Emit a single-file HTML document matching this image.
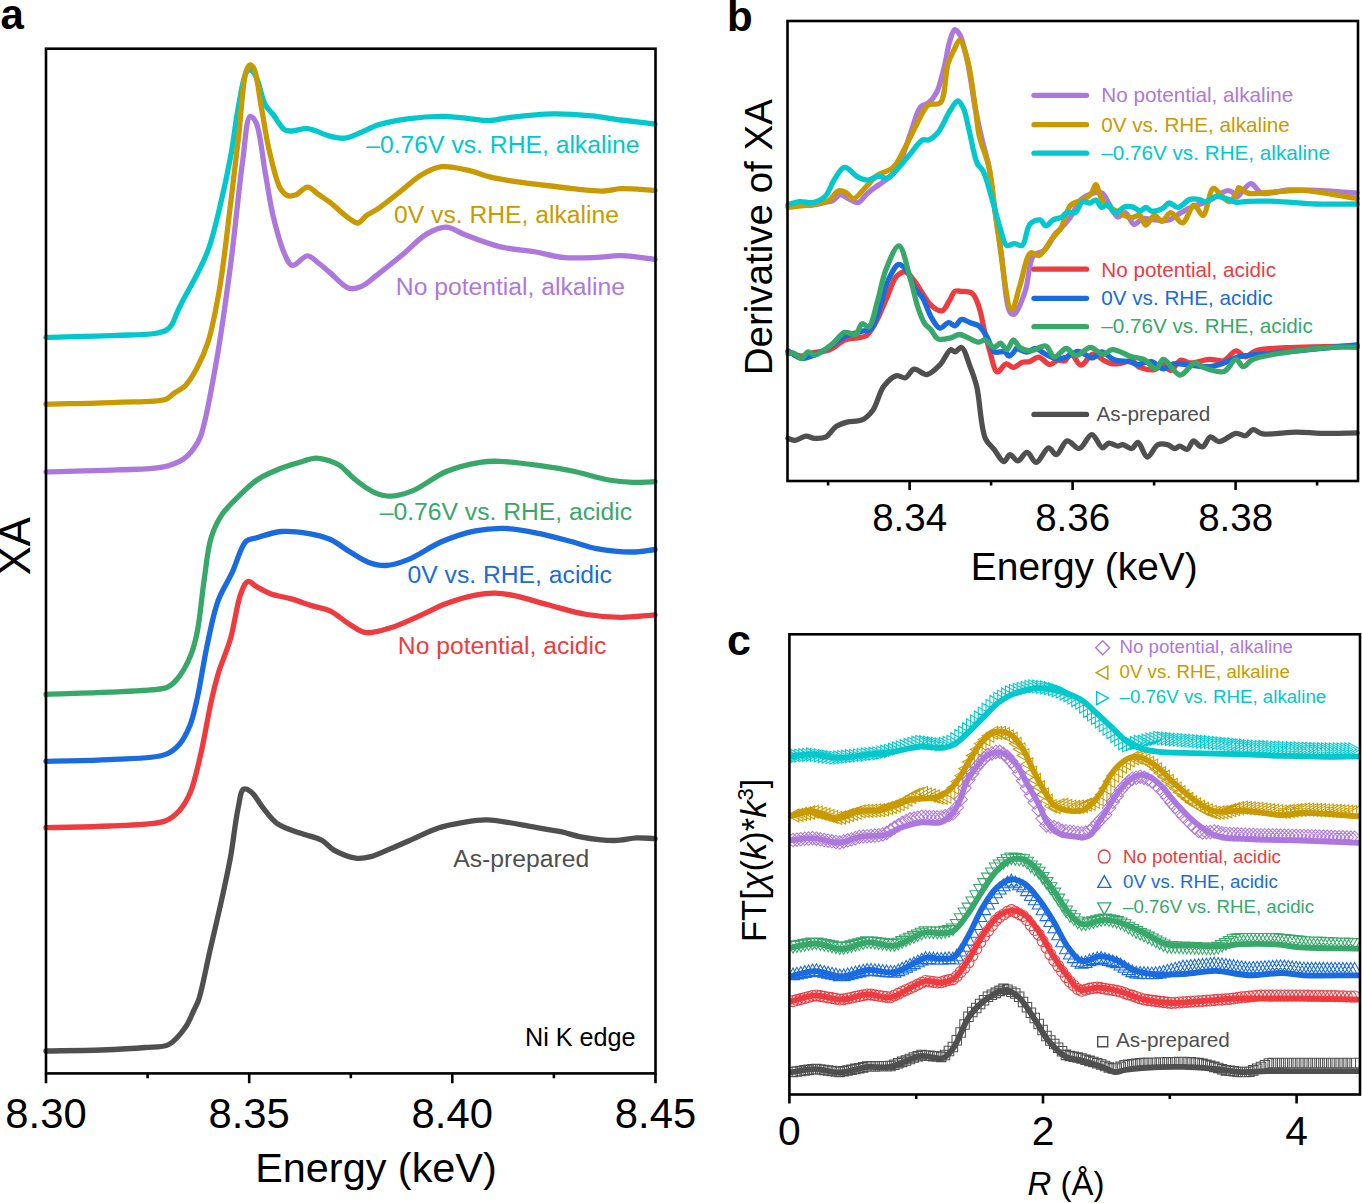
<!DOCTYPE html><html><head><meta charset="utf-8"><style>html,body{margin:0;padding:0;background:#fff;width:1362px;height:1203px;overflow:hidden}svg{display:block}text{font-family:"Liberation Sans",sans-serif}</style></head><body>
<svg width="1362" height="1203" viewBox="0 0 1362 1203">
<path d="M46 337.3C69.5 336.7 96.5 336.2 116.4 335.4C131.1 334.8 145.7 334.9 154.6 333.5C159.6 332.7 163 332.1 166 330.4C168.5 329 170.1 327.2 171.8 324.7C174.1 321.3 175.6 315.6 177.6 311.3C179.5 307.3 181 304.3 183.3 299.8C186.8 293.1 192.5 283.3 196.7 275C200.8 266.8 204.6 259.7 208.1 250.2C212.5 238.2 216 223 219.6 208.1C223.7 191.4 227.8 172.1 231 154.6C234.1 137.8 235.8 119.7 238.7 105C241 93 243.1 77.2 246.3 72.5C247.5 70.7 248.9 69.6 250.2 69.8C252 70 254.1 73.1 255.9 76.3C259.3 82.3 261.7 98.2 265.4 105C267.8 109.3 270.3 110.9 273.1 114.5C276.6 119 280.7 127.4 284.6 129.8C287 131.3 289.1 131 292 131C296.2 131 301.9 128.2 307.5 128.7C314.4 129.3 323.3 134.6 330 136.2C335.3 137.4 339.7 138.6 344.5 138.2C349.4 137.7 353.9 135.3 359.1 133.3C365.2 131 371.3 127.1 378.5 124.8C387.1 122.1 397.2 120.2 407.5 118.8C418.9 117.2 432.7 116.2 443.9 116.3C453.5 116.4 462.6 118 470.5 118.8C476.8 119.4 481.5 120.8 487.5 120.7C494.3 120.6 500.8 118.6 509.3 117.6C521.3 116.2 538.8 114.1 552.9 113.9C566.2 113.7 579.7 114.7 591.7 115.9C602.1 116.9 610.7 118.7 620.8 120C631.7 121.4 643.6 122.7 655 124.1" fill="none" stroke="#00C8CC" stroke-width="5.3" stroke-linejoin="round" stroke-linecap="round"/>
<path d="M46 404.2C69.5 403.6 95 403.3 116.4 402.3C134.4 401.5 157 402.5 166.1 399.2C170.1 397.7 170.9 395.5 173.7 393.5C177.1 391.1 181.7 389.3 185.2 385.8C189.5 381.5 193.2 375.1 196.7 368.6C200.9 360.8 204.7 352.5 208.1 341.9C212.7 327.3 216.1 308.5 219.6 288.4C224 262.8 227.6 227.6 231 200.5C233.9 177.2 236.1 157.2 238.7 135.5C241.2 113.9 242.7 80.4 246.3 70.6C247.5 67.4 248.8 64.9 250.2 64.8C251.4 64.7 252.8 66.4 254 68.7C257.2 74.9 259.1 95.3 261.6 108.8C264.2 122.6 266 137.2 269.3 150.8C272.5 163.9 276.1 181.7 280.7 189C283.1 192.7 285.6 195.1 288.4 195.9C290.8 196.6 293.3 195.8 296 194.8C299.6 193.4 303.7 187.1 307.5 187.1C311.3 187.1 315.2 192.2 319 194.8C322.7 197.3 325.9 199.3 330 202.4C335.6 206.7 344.1 215.1 349.4 218.6C352.7 220.8 355.2 223.3 357.9 223C360.8 222.6 363.1 218 366.3 215.7C369.9 213.1 374 211.5 378.5 208.4C384.8 204.1 393 197.1 400.3 191.5C407.6 185.8 414.7 178.7 422.1 174.5C428.5 170.8 434.3 167.6 441.5 166.7C450.1 165.7 461.9 169 470.5 170.9C477.7 172.5 483.4 175.3 489.9 176.9C496.3 178.5 502.3 179.5 509.3 180.6C517.5 181.9 526.4 183 536 184.2C547.2 185.6 560.6 187.4 572.3 188.6C583.2 189.7 594.9 191.3 603.8 191C610.3 190.8 614.1 188.9 620.8 188.6C630.2 188.2 643.6 189.7 655 190.3" fill="none" stroke="#C99A00" stroke-width="5.3" stroke-linejoin="round" stroke-linecap="round"/>
<path d="M46 471.8C69.5 471.2 95.5 470.8 116.4 469.9C133.3 469.2 150 469.8 162.2 467.2C170.7 465.4 177.7 462.8 183.2 459.2C187.7 456.3 190.8 452.6 193.7 448.7C196.6 444.9 198.4 442.2 200.7 436C205.9 422.1 211.1 390.8 215.8 364.8C221.4 333.7 226.5 295.7 231 261.6C235.4 228.2 238.7 189.1 242.5 162.3C245.1 144 246.2 117.6 250.2 116.4C251.9 115.9 254.2 118.9 255.9 122.2C260.3 130.6 262.4 157.4 265.4 173.7C268.1 188.4 269.8 202.2 273.1 215.8C276.3 228.9 280.5 245.2 284.6 254C287 259.2 288.8 264.7 292.2 265.4C296.1 266.3 302.8 255.8 307.5 255.9C311.6 256 315.3 260.7 319 263.5C322.8 266.3 325.8 269.2 330 272.6C335.5 277.2 343.3 286.8 349.4 288.4C353.6 289.5 357.3 288.2 361.5 286.4C367 284.1 372.4 278.5 378.5 273.8C385.9 268.1 394.7 261.1 402.7 254.5C410.8 247.8 418.8 238.5 426.9 233.9C433.4 230.2 439.9 226.9 446.3 227.1C452.8 227.3 458.3 232.3 465.7 235.1C475.4 238.8 488 243.9 499.6 246.7C511.4 249.5 524.8 250.1 536 252C545.6 253.7 553.1 256.5 562.6 257.4C573.2 258.5 586.1 257.8 596.5 257.4C605.3 257.1 612 255.5 620.8 255.7C631.2 255.9 643.6 258.1 655 259.3" fill="none" stroke="#AD78DD" stroke-width="5.3" stroke-linejoin="round" stroke-linecap="round"/>
<path d="M46 694.3C67.3 693.6 89.7 693.2 109.9 692.2C128.2 691.3 152.9 690.6 162.2 688.7C165.7 688 166.8 687.7 169.2 686.2C172.6 684.1 176.5 680.1 179.7 675.8C183.6 670.6 187.3 663.6 190.2 656.6C193.3 649.1 195.2 641.9 197.2 632.1C200.1 618 201.7 596.2 204.2 579.7C206.4 564.9 207.5 549.4 211.1 537.8C213.8 528.9 217 522 221.6 515.1C226.3 508 233.1 501.8 239.1 495.9C244.8 490.2 250.2 484.6 256.6 480.2C263 475.8 270.4 472.6 277.5 469.7C284.4 466.8 291.8 464.7 298.5 462.7C304.5 460.9 310.4 458.4 315.9 458.2C320.8 458.1 325.7 459.7 329.9 461C333.5 462.2 336.3 463.2 339.7 465.4C344.3 468.4 348.8 474.5 354.2 478.8C360 483.5 367.1 489.2 373.6 492.1C379.2 494.6 384.6 496.2 390.6 496.2C397.4 496.2 404.6 494 412.4 490.9C422.7 486.8 434.7 476.3 446.3 471.5C457.3 466.9 470.4 463.9 480.2 462.3C487.5 461.1 492 461.1 499.6 461.3C510.3 461.6 525.9 463.7 538.4 465.4C550.1 467 560.8 468.6 572.3 471C584.3 473.5 597.7 478.1 608.7 480C617.5 481.5 625 482.1 632.9 482.4C640.4 482.7 647.6 481.9 655 481.7" fill="none" stroke="#37A86A" stroke-width="5.3" stroke-linejoin="round" stroke-linecap="round"/>
<path d="M46 761.3C67.3 760.7 89.3 760.8 109.9 759.6C129.1 758.4 153.7 759 165.7 754.4C172.4 751.8 175.8 748.4 179.7 743.9C184.1 738.8 187.4 731.8 190.2 724.7C193.4 716.8 194.8 708.9 197.2 698.5C200.6 683.4 203.9 659.8 207.7 642.6C211 627.6 213.5 613 218.1 600.7C222 590.2 227.5 582.4 232.1 572.7C236.9 562.6 240.5 546.4 246.1 541.3C249.3 538.4 252.3 539.1 256.6 537.8C263 535.9 272.5 532.3 281 531.5C289.9 530.7 300.4 532.1 309 533.6C316.6 534.9 323.3 536.4 330 539.3C336.8 542.3 342.9 547.6 349.4 551.5C355.8 555.3 362.4 560.1 368.8 562.4C374.5 564.4 379.7 565.7 385.7 565.5C392.5 565.3 399.6 563 407.5 559.9C417.8 555.9 430 546.7 441.5 541.8C452.6 537.1 464.4 533.1 475.4 530.9C485.4 528.9 494.4 528.1 504.5 528.4C515.4 528.7 527.2 531.1 538.4 533.3C549.8 535.5 562 539.1 572.3 541.8C581.1 544.1 587.5 546.9 596.5 548.6C607.3 550.6 622.3 552.1 632.9 552C641.2 551.9 647.6 550.3 655 549.5" fill="none" stroke="#1A6AE0" stroke-width="5.3" stroke-linejoin="round" stroke-linecap="round"/>
<path d="M46 827.7C67.3 827.1 89.3 827.2 109.9 826C129.2 824.8 153.7 825.4 165.7 820.7C172.4 818.1 175.7 814.6 179.7 810.2C184 805.5 187.1 800 190.2 792.8C194.5 782.7 197.4 768.3 200.7 754.4C204.5 738.3 207.8 716.7 211.1 702C213.5 691.2 215.2 683.8 218.1 674C221.4 662.9 226.8 651.6 230.4 639.1C234.5 625.1 236.8 603.8 240.8 593.7C243 588.1 244.9 582.3 247.8 581.5C250.3 580.8 253.3 584.9 256.6 586.7C260.7 588.9 265.3 591.8 270.5 593.7C276.7 596 284.5 596.9 291.5 598.9C298.5 600.9 305.7 603.8 312.4 605.9C318.5 607.8 324.2 608.1 330 610.8C336.6 613.9 343 620.4 349.4 624.2C355.1 627.6 360 631.8 366.3 632.6C373.5 633.6 382.4 630.3 390.6 627.8C399.4 625.2 408.2 620.8 417.2 616.9C426.7 612.8 436.5 607.3 446.3 603.6C455.9 600 466.6 596.8 475.4 595.1C482.5 593.7 488.3 593 494.8 593.1C501.3 593.2 506.9 594.1 514.2 595.6C524 597.6 536.4 601.7 548.1 604.8C560.6 608.1 574.2 612.4 586.8 614.5C598.4 616.4 609.4 617.3 620.8 617.4C632.2 617.5 643.6 615.7 655 614.9" fill="none" stroke="#EE3B40" stroke-width="5.3" stroke-linejoin="round" stroke-linecap="round"/>
<path d="M46 1051C64.3 1050.7 83.7 1050.6 101 1050C116.5 1049.4 132.6 1048.6 145 1047.5C154.2 1046.7 162 1047.9 168.8 1044.5C175.6 1041.1 181.3 1033.1 185.6 1027C189.4 1021.6 191.6 1015 194 1010C195.8 1006.1 197.1 1004.5 198.7 999.6C202.1 989.4 206.2 967.1 209.9 950.9C213.6 934.7 217.6 918.2 221.1 902.3C224.5 887 227.7 872.6 230.5 857.3C233.4 841.4 235.3 821.2 238 808.7C239.8 800.7 240.4 790.8 243.6 789.2C245.6 788.2 248.6 790 251.1 791.8C254.9 794.6 258.2 801.7 262.3 806.8C266.8 812.3 271.2 819.3 277.3 823.6C283.6 828.1 292.3 830.2 299.8 833C307.2 835.8 316.2 837.2 322.2 840.5C326.9 843.1 328.8 847.2 333.5 849.9C339.5 853.3 349.1 857.2 355.9 858.1C361.3 858.8 365.7 857.9 370.9 856.6C376.9 855.1 383.1 851.8 389.6 849.1C396.8 846.1 404.3 842.8 412.1 839.4C420.5 835.8 429.8 830.9 438.3 828.1C445.9 825.6 452.9 824.2 460.7 822.9C469.1 821.5 476.9 819.7 487 819.9C500.7 820.2 521.9 825.2 535.6 827.4C545.7 829 553.8 830.2 561.8 831.9C568.6 833.4 573.4 835.5 580.6 836.8C590.1 838.6 604.1 840.5 614.2 840.5C622.5 840.5 629.6 838.2 636.7 837.9C643.1 837.7 648.9 838.4 655 838.6" fill="none" stroke="#4F4F4F" stroke-width="5.3" stroke-linejoin="round" stroke-linecap="round"/>
<rect x="46" y="48.7" width="609.5" height="1024.7" fill="none" stroke="#000" stroke-width="2.6"/>
<path d="M46 1073.4 V1083.2 M147.6 1073.4 V1078.2 M249.2 1073.4 V1083.2 M350.8 1073.4 V1078.2 M452.3 1073.4 V1083.2 M553.9 1073.4 V1078.2 M655.5 1073.4 V1083.2" stroke="#000" stroke-width="2.6" fill="none"/>
<text x="46" y="1128" font-size="41.8" text-anchor="middle">8.30</text>
<text x="249.2" y="1128" font-size="41.8" text-anchor="middle">8.35</text>
<text x="452.3" y="1128" font-size="41.8" text-anchor="middle">8.40</text>
<text x="655.5" y="1128" font-size="41.8" text-anchor="middle">8.45</text>
<text x="376" y="1182.4" font-size="41.4" text-anchor="middle">Energy (keV)</text>
<text transform="translate(29.7 546.3) rotate(-90)" font-size="43.5" text-anchor="middle">XA</text>
<text x="0.5" y="29.2" font-size="42" font-weight="bold">a</text>
<text x="366.3" y="152.7" font-size="24.7" fill="#00C8CC">–0.76V vs. RHE, alkaline</text>
<text x="394" y="223.4" font-size="24.7" fill="#C99A00">0V vs. RHE, alkaline</text>
<text x="395.8" y="295.2" font-size="24.7" fill="#AD78DD">No potential, alkaline</text>
<text x="379.7" y="520.4" font-size="24.7" fill="#37A86A">–0.76V vs. RHE, acidic</text>
<text x="407.5" y="583.4" font-size="24.7" fill="#1A6AE0">0V vs. RHE, acidic</text>
<text x="397.8" y="654.4" font-size="24.7" fill="#EE3B40">No potential, acidic</text>
<text x="453.3" y="866.7" font-size="24.7" fill="#4F4F4F">As-prepared</text>
<text x="525" y="1046" font-size="25.2" fill="#000">Ni K edge</text>
<path d="M788 206.4C791.8 205.4 795.8 203.6 799.5 203.5C802.9 203.4 805.7 205.5 809.3 205.5C813.9 205.5 820.6 203.4 824.9 202.5C828 201.8 830.2 201.8 832.7 200.6C835.5 199.3 837.9 194.9 840.6 194.7C843.1 194.5 845.6 197.4 848.4 198.6C851.4 200 855.2 203.1 858.1 202.5C861.1 201.9 863.2 197.2 866 194.7C869 192 872.8 189 875.7 186.9C877.9 185.3 879.4 184.7 881.6 183C884.9 180.5 890.1 177.1 893.3 173.2C896.6 169.3 898.6 165.1 901.1 159.6C904.5 152.2 907.6 141.1 910.9 132.2C914.1 123.6 916.6 111.3 920.7 106.8C923 104.2 926.1 104.8 928.5 102.9C931.4 100.6 934 97.4 936.3 93.1C939.6 86.8 941.8 76.4 944.1 67.7C946.4 58.8 947.7 47.3 950 40.4C951.5 35.9 952.9 30.1 954.8 29.7C956.3 29.4 958.2 32 959.7 34.5C962.8 39.7 965.1 51.5 967.5 61.9C970.5 75.4 972.8 95.3 975.4 108.8C977.4 119.1 979 126.7 981.2 136.1C983.5 146.2 986.8 156.1 989 167.4C991.5 180.5 992.9 196.3 994.9 210.3C996.9 223.8 998.7 235.4 1000.9 250.2C1003.7 268.7 1005.6 307.1 1010.4 312.7C1011.7 314.2 1013.1 314.6 1014.5 314C1017.9 312.5 1022.3 299.6 1025.3 290.9C1028.9 280.5 1028.5 261.9 1033.5 255.6C1036.4 252 1041 253.1 1044.3 250.2C1048.5 246.5 1052.8 236.8 1055.2 233.9C1056.2 232.7 1056.5 232.8 1057.6 231.7C1060.1 229.2 1065.7 223.5 1069.4 218.5C1073.6 212.9 1076.9 203.5 1081.1 199.4C1083.9 196.6 1086.6 195.3 1089.9 194.2C1093.4 193 1098.6 191.3 1101.7 192.8C1105 194.3 1106.5 200 1109 203.8C1111.8 208 1114.6 216.3 1117.8 217C1120.1 217.5 1122.8 212.1 1125.2 212.6C1128.3 213.2 1130.8 223.7 1134 224.3C1136.7 224.8 1139.5 219.3 1142.8 218.5C1146.3 217.7 1150.4 219.7 1154.5 219.9C1159.1 220.2 1164.7 221.2 1169.2 219.9C1173.5 218.7 1177 214.8 1181 212.6C1184.9 210.4 1188.4 208.5 1192.7 206.7C1197.6 204.6 1203.4 203.3 1208.9 200.8C1215.1 198 1222.9 190.4 1228 190.6C1231.6 190.8 1235.8 195.3 1236.8 196.4C1237.1 196.7 1236.9 197.2 1237.2 197.2C1238.5 197.4 1246.5 183.7 1250.8 183.6C1254.6 183.5 1256.8 191.6 1261.7 193.1C1268.4 195.2 1279.7 190.3 1288.8 189.9C1297.8 189.5 1306 190 1316 190.4C1328.3 190.9 1343.3 192.2 1357 193.1" fill="none" stroke="#AD78DD" stroke-width="5.3" stroke-linejoin="round" stroke-linecap="round"/>
<path d="M788 207.4C798.4 206.1 811.7 205.1 819.1 203.5C823.3 202.6 825.8 202.4 828.8 200.6C832.3 198.5 835.3 191.7 838.6 190.8C841.2 190.1 844 191.6 846.4 192.8C848.9 194.1 850.7 198.7 853.3 198.6C856.9 198.5 861.9 190.8 866 186.9C870 183 873.2 178.4 877.7 175.2C882.3 171.9 888.9 171.5 893.3 167.4C898.3 162.8 901.2 154.7 905 147.8C909 140.4 912.6 131.8 916.7 124.4C920.5 117.5 923.7 108.2 928.5 104.9C932 102.5 937.2 105.8 940.2 102.9C945.7 97.5 945 73.4 948 63.8C949.8 58 951.8 54.3 953.9 50.2C955.7 46.6 957.8 40.3 959.7 40.4C962.3 40.6 965.2 51.8 967.5 59.9C971 72.4 973.3 94.9 975.4 108.8C977 119.2 977.2 126.8 979.3 136.1C981.6 146.3 986.5 156 989 167.4C991.9 180.5 993.2 198.1 994.9 210.3C996.2 219.3 996.6 223.8 998.2 233.9C1001.1 252 1007.1 309.6 1011.7 309.9C1014.4 310.1 1017 294.2 1019.9 285.5C1023.3 275.4 1025.9 255.3 1030.7 252.9C1033.1 251.7 1036.2 256.4 1038.9 255.6C1042.7 254.5 1047.7 244.9 1049.8 242C1050.7 240.7 1050.8 240.3 1051.7 239C1053.5 236.5 1057.8 233.1 1060.6 228.7C1064.4 222.7 1066 210 1070.8 205.2C1074.4 201.6 1080.4 201.6 1084.1 199.4C1087 197.6 1089.5 195.9 1091.4 193.5C1093.4 191 1094.3 184.6 1095.8 184.7C1097.7 184.8 1099.2 195.5 1101.7 199.4C1103.8 202.5 1106 204.4 1109 206.7C1112.6 209.4 1118.2 212.2 1122.2 214.1C1125.4 215.6 1128 217.5 1131 217.7C1133.9 217.9 1137.5 214.5 1139.9 215.5C1142.5 216.6 1143.4 224.9 1145.7 225.1C1148.2 225.3 1151.6 215.7 1154.5 215.5C1157 215.3 1159.4 221.5 1161.9 221.4C1164.8 221.2 1167.5 212.7 1170.7 212.6C1174.3 212.5 1178.7 223.4 1182.4 222.9C1186.7 222.3 1190.4 205.4 1194.2 205.2C1197.2 205 1200.3 216 1203 215.5C1206.9 214.8 1209.2 189.4 1213.3 188.4C1215.9 187.8 1219.2 194.1 1222.1 196.4C1224.6 198.4 1227 202 1229.4 201.6C1232.5 201.1 1237.2 191.2 1238.2 189.1C1238.5 188.4 1238.2 187.9 1238.6 187.7C1239.7 187.2 1244.5 192.2 1248.1 193.1C1252.1 194.2 1256 193.3 1261.7 193.1C1271.6 192.8 1287.9 189.8 1302.4 190.4C1319.3 191.1 1338.8 195.8 1357 198.5" fill="none" stroke="#C99A00" stroke-width="5.3" stroke-linejoin="round" stroke-linecap="round"/>
<path d="M788 204.5C791.8 203.5 795.5 202 799.5 201.6C803.8 201.2 808.9 203.4 813.2 202.5C817.4 201.7 821.6 199.9 824.9 196.7C829 192.8 831.2 184.2 834.7 179.1C837.8 174.6 840.7 167.9 844.5 167.4C848.5 166.9 853.8 175 858.1 177.1C861.5 178.8 864.7 180.2 867.9 180.1C871.2 180 874.4 176.5 877.7 176.2C880.9 175.9 884.4 178.9 887.4 178.1C890.9 177.1 893.9 172.7 897.2 169.3C901.1 165.3 904.8 160.3 908.9 155.6C913.3 150.6 918.6 141.8 922.6 140C924.7 139 926.4 140.7 928.5 140C931.5 138.9 935.1 135.8 938.2 132.2C942.5 127.1 946.2 116.3 950 110.7C952.7 106.7 955.4 101 957.8 101C959.9 101 961.9 105.3 963.6 108.8C966.2 114.3 967.4 123.8 969.5 132.2C971.9 141.9 974.1 156.7 977.3 163.5C979.1 167.2 981.3 167.6 983.2 171.3C986.7 178.1 990 192.4 993 202.5C995.8 211.9 998.1 222.1 1000.7 229.9C1002.7 235.9 1003.6 243.9 1006.6 245.5C1008.7 246.6 1011.8 243.6 1014.4 243.6C1017 243.6 1020 246.7 1022.2 245.5C1025.9 243.5 1026.1 228.1 1030 224C1032.7 221.2 1037.2 219.3 1040 219.9C1042.4 220.4 1043.8 225.7 1045.9 225.8C1048.2 225.9 1050.5 221.4 1053.2 219.9C1055.9 218.4 1059.7 218.4 1062 217C1063.9 215.8 1064.5 213.4 1066.4 212.6C1068.7 211.7 1072.7 213.9 1075.2 212.6C1078.3 211 1079.7 202.8 1082.6 201.6C1084.8 200.7 1087.6 203.3 1089.9 203C1092 202.7 1094 199.7 1095.8 200.1C1098 200.6 1099.5 206.9 1101.7 207.4C1103.5 207.8 1105.6 204.1 1107.5 204.5C1110 205 1112 212.2 1114.9 212.6C1117.9 213.1 1121.8 207.5 1125.2 206.7C1128.1 206 1131.4 206.6 1134 207.4C1136.3 208.2 1137.9 211.1 1139.9 211.1C1141.8 211.1 1143.8 207.4 1145.7 207.4C1147.7 207.4 1149.3 210.7 1151.6 211.1C1154.5 211.6 1158.9 210.3 1161.9 208.9C1164.7 207.6 1166.6 203.3 1169.2 203C1171.9 202.7 1174.9 207.6 1178 207.4C1181.7 207.2 1186 200.6 1189.8 199.4C1192.8 198.5 1195.8 199 1198.6 199.4C1201.2 199.8 1203.3 201.8 1205.9 201.6C1209.1 201.3 1212.6 196.8 1216.2 196.4C1219.9 196 1224.4 198.3 1228 199.4C1231.2 200.3 1233.6 201.9 1236.8 202.3C1240.3 202.7 1243.5 201.5 1248.1 201.3C1255.2 201 1265.3 201 1275.2 201.3C1287.4 201.7 1302.4 203.5 1316 204C1329.6 204.5 1343.3 204 1357 204" fill="none" stroke="#00C8CC" stroke-width="5.3" stroke-linejoin="round" stroke-linecap="round"/>
<path d="M788 351.8C792.5 353.3 797.3 356.2 801.6 356.2C805.4 356.2 808.3 353.9 812.4 352.9C817.5 351.7 824.3 351.8 829.7 349.7C835.1 347.6 839.8 342 844.8 340C849.1 338.3 853.9 338.6 857.8 337.8C861 337.1 863.8 337.4 866.4 335.6C869.7 333.3 872.3 328.5 875.1 323.7C878.8 317.3 882.3 307.9 885.9 300C889.5 292.1 892.4 280.7 896.7 276.2C899.3 273.5 902.7 271.4 905.4 271.9C908.5 272.4 911.3 277.2 914 280.5C917.1 284.3 919.7 289.3 922.6 293.5C925.4 297.6 927.8 302.5 931.3 305.4C934.4 308.1 939.2 311.5 942.1 310.8C944.9 310.1 946.5 305.2 948.6 302.1C950.9 298.7 952.5 292.8 955.1 291.3C957 290.2 959.1 291.1 961.5 291.3C964.6 291.6 969.5 291.4 972.3 293.5C975.5 296 976.9 301.1 978.8 306.4C981.5 313.8 983.2 326.3 985.3 334.5C986.9 341 988.1 346 990 352C992 358.5 994 371.1 997.3 371.9C999.8 372.5 1003.2 364.2 1006.2 363.8C1008.6 363.5 1011 367.5 1013.5 367.4C1016.3 367.3 1019.4 363.2 1022.3 362.3C1024.8 361.5 1027.1 362.3 1029.6 361.6C1032.5 360.8 1035.4 357 1038.5 357.2C1042.2 357.4 1046.7 364.5 1050.2 364.5C1052.9 364.5 1055 360.7 1057.6 360.1C1060 359.6 1062.8 361.7 1064.9 360.8C1067.3 359.8 1068.5 353.5 1070.8 353.5C1073.7 353.4 1077.4 365 1081 365.2C1084.7 365.4 1088.7 354.7 1092.8 354.2C1096.6 353.8 1101 359.1 1104.5 360.8C1107.2 362.1 1109.2 363.4 1111.9 363.8C1115 364.3 1118.8 363.5 1122.2 363C1125.6 362.5 1129.6 360 1132.4 360.8C1134.9 361.5 1135.6 365.3 1138.3 366.7C1142.2 368.7 1150.1 370.5 1154.5 369.6C1158.1 368.9 1160.6 363.6 1163.3 363.8C1165.9 364 1168 370.5 1170.6 370.4C1173.8 370.3 1177.3 361 1180.9 360.1C1183.8 359.4 1186.4 362.8 1190 363C1195.2 363.3 1203.3 359.7 1209.3 359.4C1214.5 359.1 1219.5 361.9 1223.9 360.6C1228.4 359.2 1232.1 351.1 1236 350.9C1239.3 350.7 1242.4 356.9 1245.6 356.9C1248.8 356.9 1250.7 352.4 1255.3 350.9C1264.1 348 1281.4 348.1 1296.5 347.3C1314.7 346.3 1336.8 346.4 1357 346" fill="none" stroke="#EE3B40" stroke-width="5.3" stroke-linejoin="round" stroke-linecap="round"/>
<path d="M788 350.8C792.5 353.3 796.4 357.9 801.6 358.3C807.9 358.8 816.2 354.2 823.2 350.8C830.6 347.2 837.8 340 844.8 336.7C850.7 333.9 857.3 332.7 862.1 331.3C865.5 330.3 868.3 331.2 870.8 329.1C874.7 325.7 876.7 316 879.4 308.6C882.5 300 884.4 288.4 888.1 280.5C891.1 274.1 895.2 264.8 898.9 264.3C901.7 263.9 905.1 268.6 907.5 271.9C910.4 275.8 911.3 282.5 914 287C916.4 291.1 920 293.5 922.6 297.8C925.9 303.2 928 311.9 931.3 317.3C933.9 321.6 936.8 327.6 939.9 328.1C942.6 328.6 945.9 322.8 948.6 322.7C950.9 322.6 953.1 326.2 955.1 325.9C957.4 325.5 959 319.9 961.5 319.4C964 318.8 967.3 321.6 970.2 322.7C973.1 323.8 976.2 323.9 978.8 325.9C982.1 328.4 985 333.5 987.5 337.8C990.1 342.2 990.7 349.7 994 351.8C996.8 353.6 1002.2 350.7 1004.8 351.8C1006.8 352.6 1007.5 356.2 1009.1 356.2C1011 356.2 1014.5 351.1 1015.6 349.7C1016 349.1 1015.9 348.6 1016.4 348.4C1017.9 347.9 1023.4 352.1 1026.7 352C1029.8 351.9 1032.6 348.2 1035.5 348.4C1038.5 348.6 1041.1 351.9 1044.3 353.5C1047.9 355.3 1052.2 358.1 1056.1 358.6C1059.6 359.1 1062.9 358.3 1066.4 357.2C1070.3 356 1074 351.4 1078.1 351.3C1082.7 351.2 1088.6 358.3 1092.8 357.9C1096.2 357.6 1098.3 352.1 1101.6 352C1105.5 351.9 1110.1 358.5 1114.8 360.1C1119.4 361.7 1125.5 360.6 1129.5 361.6C1132.4 362.3 1133.9 364.2 1136.8 364.5C1140.8 364.9 1147 360.8 1151.5 361.6C1155.8 362.4 1159.5 368.7 1163.3 368.9C1166.8 369.1 1169.7 364.5 1173.6 363.8C1178.3 362.9 1184.3 364.8 1190 365.2C1196.2 365.7 1203.4 367.1 1209.3 366.6C1214.5 366.2 1219.1 364.6 1223.9 363C1228.8 361.4 1232.4 358.4 1238.4 356.9C1247.2 354.6 1258.5 354.7 1272.3 353.3C1294.2 351 1328.8 347.6 1357 344.8" fill="none" stroke="#1A6AE0" stroke-width="5.3" stroke-linejoin="round" stroke-linecap="round"/>
<path d="M788 354C789.7 353.6 791.2 352.6 793 352.9C795.6 353.3 799 358.6 801.6 358.3C804 358 805.8 352.2 808.1 351.8C810.2 351.5 812 355.2 814.6 355.1C819 354.9 826.7 348.3 831.9 344.3C836.7 340.6 840.4 333.7 844.8 332.4C848.3 331.4 852.8 335.8 855.6 334.5C858.6 333.1 859.5 324.4 862.1 323.7C864 323.1 866.7 327.8 868.6 327C872.3 325.5 874.6 311 877.3 302.1C880.4 292.1 882 279.5 885.9 269.7C889.4 260.9 895.1 245.6 898.9 245.9C903.1 246.2 906.5 265.9 909.7 276.2C913 286.8 915.3 299.9 918.3 308.6C920.4 314.7 922.2 319.9 924.8 323.7C926.7 326.5 929.2 327.8 931.3 330.2C933.6 332.8 934.8 337.5 937.8 338.9C941.1 340.4 946.9 338.7 950.7 337.8C953.9 337.1 956.5 334.5 959.4 334.5C962.3 334.5 965 336.6 968 337.8C971.4 339.1 975.6 342 978.8 342.1C981.2 342.2 983.1 339.6 985.3 340C988.1 340.6 991.3 347.3 994 347.5C996.2 347.6 998.3 343 1000.4 343.2C1002.7 343.4 1004.8 349.9 1006.9 349.7C1009.2 349.5 1011.1 340.1 1013.4 340C1015.5 339.9 1017.2 345.7 1019.9 347.5C1022.7 349.4 1026.3 350.9 1030 350.9C1034.7 351 1041.7 344.7 1045.8 346C1049.6 347.2 1050.9 356.4 1054.2 356.9C1057.7 357.4 1062.5 348.4 1066.3 348.5C1069.7 348.6 1072.4 355.5 1076 355.7C1080.3 356 1086 347.3 1090.6 347.3C1094.8 347.3 1098.9 354.4 1102.7 354.5C1106.1 354.6 1108.6 349.9 1112.4 349.7C1117.7 349.4 1126 355.2 1131.8 356.9C1136.3 358.2 1140.1 357.6 1143.9 359.4C1148.2 361.4 1152.6 369.4 1156 369C1159 368.6 1160.2 359.7 1163.3 359.4C1167.6 359 1174.7 374.9 1180.2 375.1C1185.2 375.2 1190.3 363.5 1194.8 363C1198.2 362.6 1200.6 366.5 1204.5 367.8C1209.8 369.6 1218.5 373.1 1223.9 371.5C1228.9 370 1232.5 359.4 1236 359.4C1238.7 359.4 1240.5 366.4 1243.2 366.6C1246.1 366.8 1248.2 361.5 1252.9 359.4C1262 355.4 1282.6 352.9 1296.5 350.9C1309.1 349 1322 347.8 1332.9 347.3C1341.7 346.9 1349 347.3 1357 347.3" fill="none" stroke="#37A86A" stroke-width="5.3" stroke-linejoin="round" stroke-linecap="round"/>
<path d="M788 438.3C790.4 439 792.5 440.5 795.1 440.4C798.3 440.3 802.5 436.3 805.9 436.1C808.9 435.9 811.5 438.1 814.6 438.3C818 438.5 822.1 438.8 825.4 437.2C829.4 435.3 832.3 429 836.2 426.4C839.6 424.2 843 423.2 847 422.1C851.5 420.9 857.7 421.9 862.1 419.9C866.3 417.9 869.7 414.6 872.9 410.2C877.2 404.3 879.1 392.4 883.7 386.4C887.4 381.6 892.6 376.5 896.7 375.6C899.7 374.9 902.7 378.6 905.4 377.8C908.5 376.9 910.6 369.8 914 369.1C917.7 368.4 922.8 375 927 374.5C931.5 373.9 936.1 368.7 940 364.8C944.1 360.6 947.6 350.5 950.7 349.7C952.3 349.3 953.5 351.9 955.1 351.8C957.1 351.7 959.5 346.9 961.5 347.5C964.8 348.4 967.6 360.4 970.2 367C972.7 373.4 974.7 378.3 976.7 386.4C979.9 399.4 980.6 427.8 985.3 438.3C987.7 443.7 990.9 445.4 993.9 449.1C997.1 453.1 1000.9 461.5 1003.9 461.6C1006.1 461.7 1007.7 454.9 1010 454.7C1012.4 454.5 1015.1 461 1017.8 460.9C1020.8 460.8 1024 452.3 1027 452.4C1030.2 452.5 1033 462.5 1036.3 462.4C1040.2 462.3 1044.9 448.1 1048.6 447.8C1051.4 447.6 1053.6 454.9 1056.3 454.7C1059.8 454.4 1063 441.5 1067.1 440.8C1070.8 440.1 1075.5 449.1 1079.4 448.5C1083.8 447.9 1087.9 434.5 1091.8 434.6C1095.6 434.7 1099.2 447.4 1102.5 447.8C1104.7 448.1 1106.3 443.5 1108.7 443.1C1111.4 442.7 1115.4 446.2 1118 446.2C1119.8 446.2 1120.8 444.6 1122.6 444.7C1125.2 444.8 1129.2 449 1131.8 448.5C1134.3 448 1135.9 442.2 1138 442.4C1141 442.7 1143.9 456.7 1147.3 457C1150.6 457.2 1154.1 446.5 1158 444.7C1160.9 443.4 1164.4 444 1167.3 444.7C1170.1 445.3 1172.8 448.5 1175 448.5C1176.7 448.5 1177.9 446.3 1179.6 446.2C1181.8 446.1 1185.1 449.9 1187.3 449.3C1189.8 448.6 1191.2 441.1 1193.5 440.8C1195.5 440.5 1198.1 445.4 1200 446.2C1201.2 446.7 1202.1 447.1 1203.2 446.6C1205.4 445.7 1207.7 437.5 1210.5 436.9C1213 436.4 1215.7 441.6 1219 441.7C1223.7 441.8 1231.1 433.8 1236 433.3C1239.6 432.9 1242.8 436.4 1245.6 435.7C1248.4 435.1 1250.2 430 1252.9 429.6C1255.8 429.2 1258.3 433 1262.6 433.8C1270.4 435.2 1286.1 432.1 1296.5 432.1C1305.3 432.1 1311.9 433.1 1320.8 433.3C1331.7 433.5 1344.9 433 1357 432.8" fill="none" stroke="#4F4F4F" stroke-width="5.3" stroke-linejoin="round" stroke-linecap="round"/>
<rect x="787.5" y="21" width="570.5" height="460" fill="none" stroke="#000" stroke-width="2.6"/>
<path d="M828.1 481 V485.5 M909.6 481 V490 M991.1 481 V485.5 M1072.6 481 V490 M1154.1 481 V485.5 M1235.6 481 V490 M1317.1 481 V485.5" stroke="#000" stroke-width="2.6" fill="none"/>
<text x="909.6" y="531" font-size="38.5" text-anchor="middle">8.34</text>
<text x="1072.6" y="531" font-size="38.5" text-anchor="middle">8.36</text>
<text x="1235.6" y="531" font-size="38.5" text-anchor="middle">8.38</text>
<text x="1084.3" y="580.1" font-size="38.9" text-anchor="middle">Energy (keV)</text>
<text transform="translate(772.1 237.2) rotate(-90)" font-size="38.5" text-anchor="middle">Derivative of XA</text>
<text x="727" y="31.3" font-size="42" font-weight="bold">b</text>
<path d="M1034 95.3H1086.5" stroke="#AD78DD" stroke-width="5.3" stroke-linecap="round"/>
<text x="1101.2" y="102.3" font-size="20.7" fill="#AD78DD">No potential, alkaline</text>
<path d="M1034 124.7H1086.5" stroke="#C99A00" stroke-width="5.3" stroke-linecap="round"/>
<text x="1101.2" y="131.7" font-size="20.7" fill="#C99A00">0V vs. RHE, alkaline</text>
<path d="M1034 153.2H1086.5" stroke="#00C8CC" stroke-width="5.3" stroke-linecap="round"/>
<text x="1101.2" y="160.3" font-size="20.7" fill="#00C8CC">–0.76V vs. RHE, alkaline</text>
<path d="M1034 269.2H1086.5" stroke="#EE3B40" stroke-width="5.3" stroke-linecap="round"/>
<text x="1101.2" y="276.6" font-size="20.7" fill="#EE3B40">No potential, acidic</text>
<path d="M1034 298.3H1086.5" stroke="#1A6AE0" stroke-width="5.3" stroke-linecap="round"/>
<text x="1101.2" y="305" font-size="20.7" fill="#1A6AE0">0V vs. RHE, acidic</text>
<path d="M1034 326.7H1086.5" stroke="#37A86A" stroke-width="5.3" stroke-linecap="round"/>
<text x="1101.2" y="333.2" font-size="20.7" fill="#37A86A">–0.76V vs. RHE, acidic</text>
<path d="M1034 414.4H1086.5" stroke="#4F4F4F" stroke-width="5.3" stroke-linecap="round"/>
<text x="1096.5" y="421.2" font-size="20.7" fill="#4F4F4F">As-prepared</text>
<clipPath id="cc"><rect x="789.4" y="634.3" width="570.6" height="460.20000000000005"/></clipPath>
<g fill="none" stroke-width="1.05" clip-path="url(#cc)">
<path d="M798.9 756.4L787.1 749.9L787.1 762.9ZM802.8 756L791 749.5L791 762.5ZM806.6 755.6L794.9 749.1L794.9 762.1ZM810.5 755.2L798.8 748.7L798.8 761.7ZM814.4 754.8L802.7 748.3L802.7 761.3ZM818.3 754.5L806.6 748L806.6 761ZM822.2 754.9L810.5 748.4L810.5 761.4ZM826.1 755.4L814.4 748.9L814.4 761.9ZM830 756L818.3 749.5L818.3 762.5ZM833.9 756.5L822.2 750L822.2 763ZM837.8 757.1L826.1 750.6L826.1 763.6ZM841.7 757.6L830 751.1L830 764.1ZM845.6 757.5L833.9 751L833.9 764ZM849.5 757.1L837.8 750.6L837.8 763.6ZM853.4 756.7L841.7 750.2L841.7 763.2ZM857.3 756.2L845.6 749.7L845.6 762.7ZM861.2 755.8L849.5 749.3L849.5 762.3ZM865.1 755.4L853.4 748.9L853.4 761.9ZM869 754.9L857.3 748.4L857.3 761.4ZM872.9 754.5L861.2 748L861.2 761ZM876.8 754.1L865.1 747.6L865.1 760.6ZM880.7 753.7L869 747.2L869 760.2ZM884.6 753.3L872.9 746.8L872.9 759.8ZM888.5 752.6L876.8 746.1L876.8 759.1ZM892.4 751.7L880.7 745.2L880.7 758.2ZM896.3 750.8L884.6 744.3L884.6 757.3ZM900.2 749.7L888.5 743.2L888.5 756.2ZM904.1 748.5L892.4 742L892.4 755ZM908 747.3L896.3 740.8L896.3 753.8ZM911.9 746.2L900.2 739.7L900.2 752.7ZM915.8 745L904.1 738.5L904.1 751.5ZM919.7 743.8L908 737.3L908 750.3ZM923.6 742.7L911.9 736.2L911.9 749.2ZM927.5 741.8L915.8 735.3L915.8 748.3ZM931.4 742.2L919.7 735.7L919.7 748.7ZM935.3 742.7L923.6 736.2L923.6 749.2ZM939.2 743.2L927.5 736.7L927.5 749.7ZM943.1 743.6L931.4 737.1L931.4 750.1ZM947 744.1L935.3 737.6L935.3 750.6ZM950.9 743.8L939.2 737.3L939.2 750.3ZM954.8 742.9L943.1 736.4L943.1 749.4ZM958.7 741.8L947 735.3L947 748.3ZM962.6 739.2L950.9 732.7L950.9 745.7ZM966.5 735.9L954.8 729.4L954.8 742.4ZM970.4 732.7L958.7 726.2L958.7 739.2ZM974.3 729.2L962.6 722.7L962.6 735.7ZM978.2 725.3L966.5 718.8L966.5 731.8ZM982.1 721.4L970.4 714.9L970.4 727.9ZM986 717.5L974.3 711L974.3 724ZM989.9 713.6L978.2 707.1L978.2 720.1ZM993.8 709.7L982.1 703.2L982.1 716.2ZM997.7 705.9L986 699.4L986 712.4ZM1001.6 702L989.9 695.5L989.9 708.5ZM1005.5 698.8L993.8 692.3L993.8 705.3ZM1009.4 696.6L997.7 690.1L997.7 703.1ZM1013.3 694.5L1001.6 688L1001.6 701ZM1017.2 692.4L1005.5 685.9L1005.5 698.9ZM1021.1 690.8L1009.4 684.3L1009.4 697.3ZM1025 689.8L1013.3 683.3L1013.3 696.3ZM1028.9 688.8L1017.2 682.3L1017.2 695.3ZM1032.8 687.8L1021.1 681.3L1021.1 694.3ZM1036.7 686.8L1025 680.3L1025 693.3ZM1040.6 686.3L1028.9 679.8L1028.9 692.8ZM1044.5 686.6L1032.8 680.1L1032.8 693.1ZM1048.4 686.9L1036.7 680.4L1036.7 693.4ZM1052.3 687.3L1040.6 680.8L1040.6 693.8ZM1056.2 688.1L1044.5 681.6L1044.5 694.6ZM1060.1 689.2L1048.4 682.7L1048.4 695.7ZM1064 690.3L1052.3 683.8L1052.3 696.8ZM1067.9 691.7L1056.2 685.2L1056.2 698.2ZM1071.8 693.5L1060.1 687L1060.1 700ZM1075.7 695.3L1064 688.8L1064 701.8ZM1079.6 697.6L1067.9 691.1L1067.9 704.1ZM1083.5 700L1071.8 693.5L1071.8 706.5ZM1087.4 702.6L1075.8 696.1L1075.8 709.1ZM1091.3 706.7L1079.7 700.2L1079.7 713.2ZM1095.2 710.9L1083.6 704.4L1083.6 717.4ZM1099.2 714.4L1087.5 707.9L1087.5 720.9ZM1103.1 717.9L1091.4 711.4L1091.4 724.4ZM1107 721.5L1095.3 715L1095.3 728ZM1110.9 725.1L1099.2 718.6L1099.2 731.6ZM1114.8 728.7L1103.1 722.2L1103.1 735.2ZM1118.7 732.3L1107 725.8L1107 738.8ZM1122.6 736L1110.9 729.5L1110.9 742.5ZM1126.5 739.6L1114.8 733.1L1114.8 746.1ZM1130.4 743.3L1118.7 736.8L1118.7 749.8ZM1134.3 745.4L1122.6 738.9L1122.6 751.9ZM1138.2 744.2L1126.5 737.7L1126.5 750.7ZM1142.1 743L1130.4 736.5L1130.4 749.5ZM1146 741.8L1134.3 735.3L1134.3 748.3ZM1149.9 741.7L1138.2 735.2L1138.2 748.2ZM1153.8 740.7L1142.1 734.2L1142.1 747.2ZM1157.7 739.7L1146 733.2L1146 746.2ZM1161.6 738.8L1149.9 732.3L1149.9 745.3ZM1165.5 737.8L1153.8 731.3L1153.8 744.3ZM1169.4 738.4L1157.7 731.9L1157.7 744.9ZM1173.3 738.7L1161.6 732.2L1161.6 745.2ZM1177.2 739L1165.5 732.5L1165.5 745.5ZM1181.1 739.3L1169.4 732.8L1169.4 745.8ZM1185 739.6L1173.3 733.1L1173.3 746.1ZM1188.9 739.9L1177.2 733.4L1177.2 746.4ZM1192.8 740.3L1181.1 733.8L1181.1 746.8ZM1196.7 740.6L1185 734.1L1185 747.1ZM1200.6 740.9L1188.9 734.4L1188.9 747.4ZM1204.5 741.2L1192.8 734.7L1192.8 747.7ZM1208.4 741.5L1196.7 735L1196.7 748ZM1212.3 741.9L1200.6 735.4L1200.6 748.4ZM1216.2 742.2L1204.5 735.7L1204.5 748.7ZM1220.1 742.6L1208.4 736.1L1208.4 749.1ZM1224 743L1212.3 736.5L1212.3 749.5ZM1227.9 743.4L1216.2 736.9L1216.2 749.9ZM1231.8 743.7L1220.1 737.2L1220.1 750.2ZM1235.7 744.1L1224 737.6L1224 750.6ZM1239.6 744.5L1227.9 738L1227.9 751ZM1243.5 744.8L1231.8 738.3L1231.8 751.3ZM1247.4 745.3L1235.7 738.8L1235.7 751.8ZM1251.3 745.7L1239.6 739.2L1239.6 752.2ZM1255.2 746.1L1243.5 739.6L1243.5 752.6ZM1259.1 746.3L1247.4 739.8L1247.4 752.8ZM1263 746.6L1251.3 740.1L1251.3 753.1ZM1266.9 746.8L1255.2 740.3L1255.2 753.3ZM1270.8 747L1259.1 740.5L1259.1 753.5ZM1274.7 747.2L1263 740.7L1263 753.7ZM1278.6 747.4L1266.9 740.9L1266.9 753.9ZM1282.5 747.6L1270.8 741.1L1270.8 754.1ZM1286.4 747.8L1274.7 741.3L1274.7 754.3ZM1290.3 747.9L1278.6 741.4L1278.6 754.4ZM1294.2 748.1L1282.5 741.6L1282.5 754.6ZM1298.1 748.2L1286.4 741.7L1286.4 754.7ZM1302 748.3L1290.3 741.8L1290.3 754.8ZM1305.9 748.5L1294.2 742L1294.2 755ZM1309.8 748.6L1298.1 742.1L1298.1 755.1ZM1313.7 748.7L1302 742.2L1302 755.2ZM1317.6 748.8L1305.9 742.3L1305.9 755.3ZM1321.5 749L1309.8 742.5L1309.8 755.5ZM1325.4 749.1L1313.7 742.6L1313.7 755.6ZM1329.3 749.2L1317.6 742.7L1317.6 755.7ZM1333.2 749.3L1321.5 742.8L1321.5 755.8ZM1337.1 749.3L1325.4 742.8L1325.4 755.8ZM1341 749.4L1329.3 742.9L1329.3 755.9ZM1344.9 749.4L1333.2 742.9L1333.2 755.9ZM1348.8 749.4L1337.1 742.9L1337.1 755.9ZM1352.7 749.4L1341 742.9L1341 755.9ZM1356.6 749.4L1344.9 742.9L1344.9 755.9ZM1360.5 749.4L1348.8 742.9L1348.8 755.9Z" stroke="#00C8CC"/>
<path d="M787.1 815.5L798.9 809L798.9 822ZM791 814.8L802.8 808.3L802.8 821.3ZM794.9 814L806.6 807.5L806.6 820.5ZM798.8 813.3L810.5 806.8L810.5 819.8ZM802.7 812.5L814.4 806L814.4 819ZM806.6 811.8L818.3 805.3L818.3 818.3ZM810.5 812.6L822.2 806.1L822.2 819.1ZM814.4 813.7L826.1 807.2L826.1 820.2ZM818.3 814.7L830 808.2L830 821.2ZM822.2 815.8L833.9 809.3L833.9 822.3ZM826.1 816.9L837.8 810.4L837.8 823.4ZM830 817.9L841.7 811.4L841.7 824.4ZM833.9 817.5L845.6 811L845.6 824ZM837.8 816.3L849.5 809.8L849.5 822.8ZM841.7 815L853.4 808.5L853.4 821.5ZM845.6 813.8L857.3 807.3L857.3 820.3ZM849.5 812.6L861.2 806.1L861.2 819.1ZM853.4 811.3L865.1 804.8L865.1 817.8ZM857.3 810.9L869 804.4L869 817.4ZM861.2 810.8L872.9 804.3L872.9 817.3ZM865.1 810.6L876.8 804.1L876.8 817.1ZM869 810.4L880.7 803.9L880.7 816.9ZM872.9 810.2L884.6 803.7L884.6 816.7ZM876.8 809.4L888.5 802.9L888.5 815.9ZM880.7 808.1L892.4 801.6L892.4 814.6ZM884.6 806.8L896.3 800.3L896.3 813.3ZM888.5 805.5L900.2 799L900.2 812ZM892.4 804.1L904.1 797.6L904.1 810.6ZM896.3 802.1L908 795.6L908 808.6ZM900.2 799.5L911.9 793L911.9 806ZM904.1 797L915.8 790.5L915.8 803.5ZM908 795.2L919.7 788.7L919.7 801.7ZM911.9 793.8L923.6 787.3L923.6 800.3ZM915.8 792.9L927.5 786.4L927.5 799.4ZM919.7 794.3L931.4 787.8L931.4 800.8ZM923.6 795.5L935.3 789L935.3 802ZM927.5 796.5L939.2 790L939.2 803ZM931.4 797.4L943.1 790.9L943.1 803.9ZM935.3 797.8L947 791.3L947 804.3ZM939.2 796.6L950.9 790.1L950.9 803.1ZM943.1 792.9L954.8 786.4L954.8 799.4ZM947 787.6L958.7 781.1L958.7 794.1ZM950.9 781.6L962.6 775.1L962.6 788.1ZM954.8 775.6L966.5 769.1L966.5 782.1ZM958.7 768.8L970.4 762.3L970.4 775.3ZM962.6 762L974.3 755.5L974.3 768.5ZM966.5 755.5L978.2 749L978.2 762ZM970.4 749.5L982.1 743L982.1 756ZM974.3 743.6L986 737.1L986 750.1ZM978.2 739.4L989.9 732.9L989.9 745.9ZM982.1 735.7L993.8 729.2L993.8 742.2ZM986 732.9L997.7 726.4L997.7 739.4ZM989.9 732.9L1001.6 726.4L1001.6 739.4ZM993.8 732.9L1005.5 726.4L1005.5 739.4ZM997.7 734.1L1009.4 727.6L1009.4 740.6ZM1001.6 736.4L1013.3 729.9L1013.3 742.9ZM1005.5 738.8L1017.2 732.3L1017.2 745.3ZM1009.4 743.8L1021.1 737.3L1021.1 750.3ZM1013.3 749.3L1025 742.8L1025 755.8ZM1017.2 755.4L1028.9 748.9L1028.9 761.9ZM1021.1 764.1L1032.8 757.6L1032.8 770.6ZM1025 772.6L1036.7 766.1L1036.7 779.1ZM1028.9 780L1040.6 773.5L1040.6 786.5ZM1032.8 787.3L1044.5 780.8L1044.5 793.8ZM1036.7 794.5L1048.4 788L1048.4 801ZM1040.6 800.6L1052.3 794.1L1052.3 807.1ZM1044.5 806.1L1056.2 799.6L1056.2 812.6ZM1048.4 807L1060.1 800.5L1060.1 813.5ZM1052.3 805.1L1064 798.6L1064 811.6ZM1056.2 805L1067.9 798.5L1067.9 811.5ZM1060.1 805.8L1071.8 799.3L1071.8 812.3ZM1064 806.6L1075.7 800.1L1075.7 813.1ZM1067.9 807L1079.6 800.5L1079.6 813.5ZM1071.8 806.6L1083.5 800.1L1083.5 813.1ZM1075.8 806.2L1087.4 799.7L1087.4 812.7ZM1079.7 804.7L1091.3 798.2L1091.3 811.2ZM1083.6 803.6L1095.2 797.1L1095.2 810.1ZM1087.5 801.6L1099.2 795.1L1099.2 808.1ZM1091.4 799.1L1103.1 792.6L1103.1 805.6ZM1095.3 794.6L1107 788.1L1107 801.1ZM1099.2 788.3L1110.9 781.8L1110.9 794.8ZM1103.1 781.1L1114.8 774.6L1114.8 787.6ZM1107 775.6L1118.7 769.1L1118.7 782.1ZM1110.9 771.1L1122.6 764.6L1122.6 777.6ZM1114.8 766.5L1126.5 760L1126.5 773ZM1118.7 763.4L1130.4 756.9L1130.4 769.9ZM1122.6 760.3L1134.3 753.8L1134.3 766.8ZM1126.5 758L1138.2 751.5L1138.2 764.5ZM1130.4 757.7L1142.1 751.2L1142.1 764.2ZM1134.3 758.3L1146 751.8L1146 764.8ZM1138.2 760.4L1149.9 753.9L1149.9 766.9ZM1142.1 762.9L1153.8 756.4L1153.8 769.4ZM1146 765.6L1157.7 759.1L1157.7 772.1ZM1149.9 769.3L1161.6 762.8L1161.6 775.8ZM1153.8 773.1L1165.5 766.6L1165.5 779.6ZM1157.7 776.7L1169.4 770.2L1169.4 783.2ZM1161.6 780.8L1173.3 774.3L1173.3 787.3ZM1165.5 784.9L1177.2 778.4L1177.2 791.4ZM1169.4 788.6L1181.1 782.1L1181.1 795.1ZM1173.3 792.2L1185 785.7L1185 798.7ZM1177.2 795.8L1188.9 789.3L1188.9 802.3ZM1181.1 799L1192.8 792.5L1192.8 805.5ZM1185 802.1L1196.7 795.6L1196.7 808.6ZM1188.9 804.5L1200.6 798L1200.6 811ZM1192.8 806.7L1204.5 800.2L1204.5 813.2ZM1196.7 809L1208.4 802.5L1208.4 815.5ZM1200.6 810.5L1212.3 804L1212.3 817ZM1204.5 811.9L1216.2 805.4L1216.2 818.4ZM1208.4 812.8L1220.1 806.3L1220.1 819.3ZM1212.3 812.5L1224 806L1224 819ZM1216.2 812.1L1227.9 805.6L1227.9 818.6ZM1220.1 811.3L1231.8 804.8L1231.8 817.8ZM1224 810.2L1235.7 803.7L1235.7 816.7ZM1227.9 809.2L1239.6 802.7L1239.6 815.7ZM1231.8 808.1L1243.5 801.6L1243.5 814.6ZM1235.7 807.6L1247.4 801.1L1247.4 814.1ZM1239.6 808L1251.3 801.5L1251.3 814.5ZM1243.5 808.3L1255.2 801.8L1255.2 814.8ZM1247.4 808.6L1259.1 802.1L1259.1 815.1ZM1251.3 808.9L1263 802.4L1263 815.4ZM1255.2 809.3L1266.9 802.8L1266.9 815.8ZM1259.1 809.8L1270.8 803.3L1270.8 816.3ZM1263 810.2L1274.7 803.7L1274.7 816.7ZM1266.9 810.7L1278.6 804.2L1278.6 817.2ZM1270.8 811.1L1282.5 804.6L1282.5 817.6ZM1274.7 811.6L1286.4 805.1L1286.4 818.1ZM1278.6 811.5L1290.3 805L1290.3 818ZM1282.5 811L1294.2 804.5L1294.2 817.5ZM1286.4 810.6L1298.1 804.1L1298.1 817.1ZM1290.3 810.2L1302 803.7L1302 816.7ZM1294.2 809.8L1305.9 803.3L1305.9 816.3ZM1298.1 809.4L1309.8 802.9L1309.8 815.9ZM1302 809.6L1313.7 803.1L1313.7 816.1ZM1305.9 809.8L1317.6 803.3L1317.6 816.3ZM1309.8 810L1321.5 803.5L1321.5 816.5ZM1313.7 810.2L1325.4 803.7L1325.4 816.7ZM1317.6 810.4L1329.3 803.9L1329.3 816.9ZM1321.5 810.6L1333.2 804.1L1333.2 817.1ZM1325.4 810.8L1337.1 804.3L1337.1 817.3ZM1329.3 811L1341 804.5L1341 817.5ZM1333.2 811.2L1344.9 804.7L1344.9 817.7ZM1337.1 811.4L1348.8 804.9L1348.8 817.9ZM1341 811.7L1352.7 805.2L1352.7 818.2ZM1344.9 811.9L1356.6 805.4L1356.6 818.4ZM1348.8 812.1L1360.5 805.6L1360.5 818.6Z" stroke="#C99A00"/>
<path d="M793 833.3L799.8 840L793 846.8L786.2 840ZM796.9 832.9L803.6 839.6L796.9 846.4L790.1 839.6ZM800.8 832.5L807.5 839.3L800.8 846L794 839.3ZM804.7 832.1L811.4 838.9L804.7 845.6L797.9 838.9ZM808.6 831.8L815.3 838.5L808.6 845.3L801.8 838.5ZM812.5 831.4L819.2 838.1L812.5 844.9L805.7 838.1ZM816.4 831.9L823.1 838.7L816.4 845.4L809.6 838.7ZM820.3 832.6L827 839.3L820.3 846.1L813.5 839.3ZM824.2 833.3L830.9 840L824.2 846.8L817.4 840ZM828.1 833.9L834.8 840.7L828.1 847.4L821.3 840.7ZM832 834.6L838.7 841.3L832 848.1L825.2 841.3ZM835.9 835.2L842.6 842L835.9 848.7L829.1 842ZM839.8 835.8L846.5 842.5L839.8 849.3L833 842.5ZM843.7 834.7L850.4 841.4L843.7 848.2L836.9 841.4ZM847.6 833.6L854.3 840.3L847.6 847.1L840.8 840.3ZM851.5 832.5L858.2 839.2L851.5 846L844.7 839.2ZM855.4 831.4L862.1 838.1L855.4 844.9L848.6 838.1ZM859.3 830.2L866 837L859.3 843.7L852.5 837ZM863.2 829.8L869.9 836.5L863.2 843.3L856.4 836.5ZM867.1 829.5L873.8 836.2L867.1 843L860.3 836.2ZM871 829.2L877.7 835.9L871 842.7L864.2 835.9ZM874.9 828.8L881.6 835.6L874.9 842.3L868.1 835.6ZM878.8 828.5L885.5 835.3L878.8 842L872 835.3ZM882.7 827.7L889.4 834.4L882.7 841.2L875.9 834.4ZM886.6 826.2L893.3 833L886.6 839.7L879.8 833ZM890.5 823.6L897.2 830.4L890.5 837.1L883.7 830.4ZM894.4 821.1L901.1 827.8L894.4 834.6L887.6 827.8ZM898.3 818.5L905 825.2L898.3 832L891.5 825.2ZM902.2 816.1L908.9 822.9L902.2 829.6L895.4 822.9ZM906.1 814.4L912.8 821.1L906.1 827.9L899.3 821.1ZM910 812.6L916.7 819.4L910 826.1L903.2 819.4ZM913.9 811.7L920.6 818.5L913.9 825.2L907.1 818.5ZM917.8 810.9L924.5 817.6L917.8 824.4L911 817.6ZM921.7 810L928.4 816.8L921.7 823.5L914.9 816.8ZM925.6 810.2L932.3 816.9L925.6 823.7L918.8 816.9ZM929.5 810.3L936.2 817L929.5 823.8L922.7 817ZM933.4 810.4L940.1 817.2L933.4 823.9L926.6 817.2ZM937.3 810.6L944 817.3L937.3 824.1L930.5 817.3ZM941.2 810.5L947.9 817.2L941.2 824L934.4 817.2ZM945.1 809.4L951.8 816.1L945.1 822.9L938.3 816.1ZM949 808.3L955.7 815L949 821.8L942.2 815ZM952.9 806.8L959.6 813.5L952.9 820.3L946.1 813.5ZM956.8 800.7L963.5 807.5L956.8 814.2L950 807.5ZM960.7 792.7L967.4 799.4L960.7 806.2L953.9 799.4ZM964.6 781.3L971.3 788L964.6 794.8L957.8 788ZM968.5 773.1L975.2 779.8L968.5 786.6L961.7 779.8ZM972.4 766.7L979.1 773.4L972.4 780.2L965.6 773.4ZM976.3 760.5L983 767.2L976.3 774L969.5 767.2ZM980.2 755.9L986.9 762.7L980.2 769.4L973.4 762.7ZM984.1 751.4L990.8 758.2L984.1 764.9L977.3 758.2ZM988 748.3L994.7 755L988 761.8L981.2 755ZM991.9 746.7L998.6 753.5L991.9 760.2L985.1 753.5ZM995.8 745.2L1002.5 751.9L995.8 758.7L989 751.9ZM999.7 745.1L1006.4 751.8L999.7 758.6L992.9 751.8ZM1003.6 747.3L1010.3 754L1003.6 760.8L996.8 754ZM1007.5 750L1014.2 756.8L1007.5 763.5L1000.7 756.8ZM1011.4 754.9L1018.1 761.6L1011.4 768.4L1004.6 761.6ZM1015.3 759.8L1022 766.5L1015.3 773.3L1008.5 766.5ZM1019.2 766.4L1025.9 773.1L1019.2 779.9L1012.4 773.1ZM1023.1 774L1029.8 780.7L1023.1 787.5L1016.3 780.7ZM1027 781.4L1033.7 788.1L1027 794.9L1020.2 788.1ZM1030.9 788.6L1037.6 795.4L1030.9 802.1L1024.1 795.4ZM1034.8 795.8L1041.5 802.5L1034.8 809.3L1028 802.5ZM1038.7 803.2L1045.4 810L1038.7 816.7L1031.9 810ZM1042.6 811.8L1049.3 818.5L1042.6 825.3L1035.8 818.5ZM1046.5 818.7L1053.2 825.5L1046.5 832.2L1039.7 825.5ZM1050.4 819.6L1057.1 826.4L1050.4 833.1L1043.6 826.4ZM1054.3 820.3L1061 827L1054.3 833.8L1047.5 827ZM1058.2 821.9L1064.9 828.7L1058.2 835.4L1051.4 828.7ZM1062.1 823.9L1068.8 830.7L1062.1 837.4L1055.3 830.7ZM1066 824.5L1072.7 831.2L1066 838L1059.2 831.2ZM1069.9 825L1076.6 831.8L1069.9 838.5L1063.1 831.8ZM1073.8 825.5L1080.5 832.3L1073.8 839L1067 832.3ZM1077.7 826L1084.4 832.8L1077.7 839.5L1070.9 832.8ZM1081.6 826.5L1088.3 833.3L1081.6 840L1074.8 833.3ZM1085.5 825.9L1092.2 832.7L1085.5 839.4L1078.8 832.7ZM1089.4 824.4L1096.2 831.1L1089.4 837.9L1082.7 831.1ZM1093.3 821.1L1100.1 827.9L1093.3 834.6L1086.6 827.9ZM1097.2 816.4L1104 823.2L1097.2 829.9L1090.5 823.2ZM1101.1 812.3L1107.9 819L1101.1 825.8L1094.4 819ZM1105 808.2L1111.8 815L1105 821.7L1098.3 815ZM1108.9 801.3L1115.7 808.1L1108.9 814.8L1102.2 808.1ZM1112.8 795.1L1119.6 801.8L1112.8 808.6L1106.1 801.8ZM1116.7 789.2L1123.5 795.9L1116.7 802.7L1110 795.9ZM1120.6 783.3L1127.4 790.1L1120.6 796.8L1113.9 790.1ZM1124.5 779.1L1131.3 785.8L1124.5 792.6L1117.8 785.8ZM1128.4 774.9L1135.2 781.6L1128.4 788.4L1121.7 781.6ZM1132.3 772L1139.1 778.8L1132.3 785.5L1125.6 778.8ZM1136.2 771L1143 777.7L1136.2 784.5L1129.5 777.7ZM1140.1 769.9L1146.9 776.7L1140.1 783.4L1133.4 776.7ZM1144 770.9L1150.8 777.6L1144 784.4L1137.3 777.6ZM1147.9 772.6L1154.7 779.3L1147.9 786.1L1141.2 779.3ZM1151.8 774.5L1158.6 781.2L1151.8 788L1145.1 781.2ZM1155.7 778.1L1162.5 784.8L1155.7 791.6L1149 784.8ZM1159.6 781.7L1166.4 788.5L1159.6 795.2L1152.9 788.5ZM1163.5 785.8L1170.3 792.6L1163.5 799.3L1156.8 792.6ZM1167.4 790.7L1174.2 797.5L1167.4 804.2L1160.7 797.5ZM1171.3 795.7L1178.1 802.4L1171.3 809.2L1164.6 802.4ZM1175.2 800.2L1182 807L1175.2 813.7L1168.5 807ZM1179.1 804.7L1185.9 811.5L1179.1 818.2L1172.4 811.5ZM1183 809.1L1189.8 815.9L1183 822.6L1176.3 815.9ZM1186.9 813.2L1193.7 819.9L1186.9 826.7L1180.2 819.9ZM1190.8 817.3L1197.6 824L1190.8 830.8L1184.1 824ZM1194.7 820.9L1201.5 827.7L1194.7 834.4L1188 827.7ZM1198.6 824.2L1205.4 831L1198.6 837.7L1191.9 831ZM1202.5 825.7L1209.3 832.5L1202.5 839.2L1195.8 832.5ZM1206.4 825.6L1213.2 832.3L1206.4 839.1L1199.7 832.3ZM1210.3 825.3L1217.1 832.1L1210.3 838.8L1203.6 832.1ZM1214.2 824.7L1221 831.5L1214.2 838.2L1207.5 831.5ZM1218.1 825.3L1224.9 832.1L1218.1 838.8L1211.4 832.1ZM1222 826.4L1228.8 833.2L1222 839.9L1215.3 833.2ZM1225.9 826.9L1232.7 833.7L1225.9 840.4L1219.2 833.7ZM1229.8 827.2L1236.6 833.9L1229.8 840.7L1223.1 833.9ZM1233.7 827.4L1240.5 834.2L1233.7 840.9L1227 834.2ZM1237.6 827.6L1244.4 834.4L1237.6 841.1L1230.9 834.4ZM1241.5 827.8L1248.3 834.6L1241.5 841.3L1234.8 834.6ZM1245.4 828L1252.2 834.7L1245.4 841.5L1238.7 834.7ZM1249.3 828.1L1256.1 834.8L1249.3 841.6L1242.6 834.8ZM1253.2 828.2L1260 835L1253.2 841.7L1246.5 835ZM1257.1 828.4L1263.9 835.1L1257.1 841.9L1250.4 835.1ZM1261 828.5L1267.8 835.2L1261 842L1254.3 835.2ZM1264.9 828.5L1271.7 835.3L1264.9 842L1258.2 835.3ZM1268.8 828.6L1275.6 835.4L1268.8 842.1L1262.1 835.4ZM1272.7 828.7L1279.5 835.4L1272.7 842.2L1266 835.4ZM1276.6 828.7L1283.4 835.5L1276.6 842.2L1269.9 835.5ZM1280.5 828.8L1287.3 835.6L1280.5 842.3L1273.8 835.6ZM1284.4 828.9L1291.2 835.6L1284.4 842.4L1277.7 835.6ZM1288.3 829L1295.1 835.7L1288.3 842.5L1281.6 835.7ZM1292.2 829L1299 835.8L1292.2 842.5L1285.5 835.8ZM1296.1 829.1L1302.9 835.8L1296.1 842.6L1289.4 835.8ZM1300 829.2L1306.8 835.9L1300 842.7L1293.3 835.9ZM1303.9 829.2L1310.7 836L1303.9 842.7L1297.2 836ZM1307.8 829.4L1314.6 836.1L1307.8 842.9L1301.1 836.1ZM1311.7 829.5L1318.5 836.3L1311.7 843L1305 836.3ZM1315.6 829.6L1322.4 836.4L1315.6 843.1L1308.9 836.4ZM1319.5 829.8L1326.3 836.5L1319.5 843.3L1312.8 836.5ZM1323.4 829.9L1330.2 836.7L1323.4 843.4L1316.7 836.7ZM1327.3 830.1L1334.1 836.8L1327.3 843.6L1320.6 836.8ZM1331.2 830.2L1338 836.9L1331.2 843.7L1324.5 836.9ZM1335.1 830.3L1341.9 837.1L1335.1 843.8L1328.4 837.1ZM1339 830.5L1345.8 837.2L1339 844L1332.3 837.2ZM1342.9 830.6L1349.7 837.3L1342.9 844.1L1336.2 837.3ZM1346.8 830.7L1353.6 837.5L1346.8 844.2L1340.1 837.5ZM1350.7 830.9L1357.5 837.6L1350.7 844.4L1344 837.6ZM1354.6 831L1361.4 837.8L1354.6 844.5L1347.9 837.8Z" stroke="#AD78DD"/>
<path d="M793 953.2L799.5 941.5L786.5 941.5ZM796.9 952.5L803.4 940.8L790.4 940.8ZM800.8 951.9L807.3 940.2L794.3 940.2ZM804.7 951.2L811.2 939.5L798.2 939.5ZM808.6 950.5L815.1 938.8L802.1 938.8ZM812.5 949.8L819 938.1L806 938.1ZM816.4 949.6L822.9 937.9L809.9 937.9ZM820.3 950.4L826.8 938.7L813.8 938.7ZM824.2 951.2L830.7 939.5L817.7 939.5ZM828.1 952L834.6 940.3L821.6 940.3ZM832 952.8L838.5 941.1L825.5 941.1ZM835.9 953.6L842.4 941.9L829.4 941.9ZM839.8 954.5L846.3 942.8L833.3 942.8ZM843.7 954.4L850.2 942.7L837.2 942.7ZM847.6 953.4L854.1 941.7L841.1 941.7ZM851.5 952.4L858 940.7L845 940.7ZM855.4 951.4L861.9 939.7L848.9 939.7ZM859.3 950.5L865.8 938.8L852.8 938.8ZM863.2 949.5L869.7 937.8L856.7 937.8ZM867.1 948.5L873.6 936.8L860.6 936.8ZM871 948.6L877.5 936.9L864.5 936.9ZM874.9 949.1L881.4 937.4L868.4 937.4ZM878.8 949.6L885.3 937.9L872.3 937.9ZM882.7 950.1L889.2 938.4L876.2 938.4ZM886.6 950.6L893.1 938.9L880.1 938.9ZM890.5 951.1L897 939.4L884 939.4ZM894.4 951.5L900.9 939.8L887.9 939.8ZM898.3 949.9L904.8 938.2L891.8 938.2ZM902.2 948.3L908.7 936.6L895.7 936.6ZM906.1 946.6L912.6 934.9L899.6 934.9ZM910 944.9L916.5 933.2L903.5 933.2ZM913.9 943.3L920.4 931.6L907.4 931.6ZM917.8 941.6L924.3 929.9L911.3 929.9ZM921.7 939.9L928.2 928.2L915.2 928.2ZM925.6 938.4L932.1 926.7L919.1 926.7ZM929.5 938.5L936 926.8L923 926.8ZM933.4 938.7L939.9 927L926.9 927ZM937.3 938.9L943.8 927.2L930.8 927.2ZM941.2 938.8L947.7 927.1L934.7 927.1ZM945.1 938L951.6 926.3L938.6 926.3ZM949 937.3L955.5 925.6L942.5 925.6ZM952.9 935.7L959.4 924L946.4 924ZM956.8 931.2L963.3 919.5L950.3 919.5ZM960.7 925.4L967.2 913.7L954.2 913.7ZM964.6 919.7L971.1 908L958.1 908ZM968.5 914.8L975 903.1L962 903.1ZM972.4 908.6L978.9 896.9L965.9 896.9ZM976.3 902.4L982.8 890.7L969.8 890.7ZM980.2 896.2L986.7 884.5L973.7 884.5ZM984.1 890.3L990.6 878.6L977.6 878.6ZM988 884.8L994.5 873.1L981.5 873.1ZM991.9 879.6L998.4 867.9L985.4 867.9ZM995.8 874.7L1002.3 863L989.3 863ZM999.7 871.7L1006.2 860L993.2 860ZM1003.6 869.1L1010.1 857.4L997.1 857.4ZM1007.5 866.5L1014 854.8L1001 854.8ZM1011.4 864.7L1017.9 853L1004.9 853ZM1015.3 865.3L1021.8 853.6L1008.8 853.6ZM1019.2 865.9L1025.7 854.2L1012.7 854.2ZM1023.1 866.5L1029.6 854.8L1016.6 854.8ZM1027 869L1033.5 857.3L1020.5 857.3ZM1030.9 872.6L1037.4 860.9L1024.4 860.9ZM1034.8 875.8L1041.3 864.1L1028.3 864.1ZM1038.7 879L1045.2 867.3L1032.2 867.3ZM1042.6 884.1L1049.1 872.4L1036.1 872.4ZM1046.5 889.2L1053 877.5L1040 877.5ZM1050.4 894.4L1056.9 882.7L1043.9 882.7ZM1054.3 899.8L1060.8 888.1L1047.8 888.1ZM1058.2 905.8L1064.7 894.1L1051.7 894.1ZM1062.1 911.7L1068.6 900L1055.6 900ZM1066 917.7L1072.5 906L1059.5 906ZM1069.9 922.2L1076.4 910.5L1063.4 910.5ZM1073.8 925.5L1080.3 913.8L1067.3 913.8ZM1077.7 928.7L1084.2 917L1071.2 917ZM1081.6 930.7L1088.1 919L1075.1 919ZM1085.5 930.7L1092 919L1079 919ZM1089.4 929.5L1095.9 917.8L1082.9 917.8ZM1093.3 928.4L1099.8 916.7L1086.8 916.7ZM1097.2 927.5L1103.7 915.8L1090.7 915.8ZM1101.1 926.5L1107.6 914.8L1094.6 914.8ZM1105 925.8L1111.5 914.1L1098.5 914.1ZM1108.9 926.5L1115.4 914.8L1102.4 914.8ZM1112.8 927.3L1119.3 915.6L1106.3 915.6ZM1116.7 928.3L1123.2 916.6L1110.2 916.6ZM1120.6 929.6L1127.1 917.9L1114.1 917.9ZM1124.5 931.5L1131 919.8L1118 919.8ZM1128.4 933.9L1134.9 922.2L1121.9 922.2ZM1132.3 936.2L1138.8 924.5L1125.8 924.5ZM1136.2 938.3L1142.7 926.6L1129.7 926.6ZM1140.1 940.1L1146.6 928.4L1133.6 928.4ZM1144 941.8L1150.5 930.1L1137.5 930.1ZM1147.9 943.8L1154.4 932.1L1141.4 932.1ZM1151.8 945.7L1158.3 934L1145.3 934ZM1155.7 947.7L1162.2 936L1149.2 936ZM1159.6 949.6L1166.1 937.9L1153.1 937.9ZM1163.5 951.6L1170 939.9L1157 939.9ZM1167.4 953.1L1173.9 941.4L1160.9 941.4ZM1171.3 953.3L1177.8 941.6L1164.8 941.6ZM1175.2 953.4L1181.7 941.7L1168.7 941.7ZM1179.1 953.6L1185.6 941.9L1172.6 941.9ZM1183 953.7L1189.5 942L1176.5 942ZM1186.9 953.9L1193.4 942.2L1180.4 942.2ZM1190.8 954.1L1197.3 942.4L1184.3 942.4ZM1194.7 954.2L1201.2 942.5L1188.2 942.5ZM1198.6 954.4L1205.1 942.7L1192.1 942.7ZM1202.5 954.5L1209 942.8L1196 942.8ZM1206.4 954.7L1212.9 943L1199.9 943ZM1210.3 954.9L1216.8 943.2L1203.8 943.2ZM1214.2 955L1220.7 943.3L1207.7 943.3ZM1218.1 953.9L1224.6 942.2L1211.6 942.2ZM1222 952.2L1228.5 940.5L1215.5 940.5ZM1225.9 950.3L1232.4 938.6L1219.4 938.6ZM1229.8 948.3L1236.3 936.6L1223.3 936.6ZM1233.7 946.4L1240.2 934.7L1227.2 934.7ZM1237.6 945.5L1244.1 933.8L1231.1 933.8ZM1241.5 945.1L1248 933.4L1235 933.4ZM1245.4 945.1L1251.9 933.4L1238.9 933.4ZM1249.3 945.1L1255.8 933.4L1242.8 933.4ZM1253.2 945.1L1259.7 933.4L1246.7 933.4ZM1257.1 945.1L1263.6 933.4L1250.6 933.4ZM1261 945.1L1267.5 933.4L1254.5 933.4ZM1264.9 945.1L1271.4 933.4L1258.4 933.4ZM1268.8 945.1L1275.3 933.4L1262.3 933.4ZM1272.7 945.1L1279.2 933.4L1266.2 933.4ZM1276.6 945.4L1283.1 933.7L1270.1 933.7ZM1280.5 945.9L1287 934.2L1274 934.2ZM1284.4 946.3L1290.9 934.6L1277.9 934.6ZM1288.3 946.7L1294.8 935L1281.8 935ZM1292.2 947.1L1298.7 935.4L1285.7 935.4ZM1296.1 947.5L1302.6 935.8L1289.6 935.8ZM1300 947.9L1306.5 936.2L1293.5 936.2ZM1303.9 948.4L1310.4 936.7L1297.4 936.7ZM1307.8 948.6L1314.3 936.9L1301.3 936.9ZM1311.7 948.7L1318.2 937L1305.2 937ZM1315.6 948.8L1322.1 937.1L1309.1 937.1ZM1319.5 949L1326 937.3L1313 937.3ZM1323.4 949.1L1329.9 937.4L1316.9 937.4ZM1327.3 949.3L1333.8 937.6L1320.8 937.6ZM1331.2 949.4L1337.7 937.7L1324.7 937.7ZM1335.1 949.6L1341.6 937.9L1328.6 937.9ZM1339 949.7L1345.5 938L1332.5 938ZM1342.9 949.8L1349.4 938.1L1336.4 938.1ZM1346.8 950L1353.3 938.3L1340.3 938.3ZM1350.7 950.1L1357.2 938.4L1344.2 938.4ZM1354.6 950.3L1361.1 938.6L1348.1 938.6Z" stroke="#37A86A"/>
<path d="M793 968.1L799.5 979.8L786.5 979.8ZM796.9 967.3L803.4 979L790.4 979ZM800.8 966.5L807.3 978.2L794.3 978.2ZM804.7 965.7L811.2 977.4L798.2 977.4ZM808.6 964.9L815.1 976.6L802.1 976.6ZM812.5 964.1L819 975.8L806 975.8ZM816.4 963.8L822.9 975.5L809.9 975.5ZM820.3 964.7L826.8 976.4L813.8 976.4ZM824.2 965.5L830.7 977.2L817.7 977.2ZM828.1 966.4L834.6 978.1L821.6 978.1ZM832 967.3L838.5 979L825.5 979ZM835.9 968.1L842.4 979.8L829.4 979.8ZM839.8 969L846.3 980.7L833.3 980.7ZM843.7 968.9L850.2 980.6L837.2 980.6ZM847.6 968L854.1 979.7L841.1 979.7ZM851.5 967.1L858 978.8L845 978.8ZM855.4 966.1L861.9 977.8L848.9 977.8ZM859.3 965.2L865.8 976.9L852.8 976.9ZM863.2 964.3L869.7 976L856.7 976ZM867.1 963.4L873.6 975.1L860.6 975.1ZM871 963.4L877.5 975.1L864.5 975.1ZM874.9 963.8L881.4 975.5L868.4 975.5ZM878.8 964.2L885.3 975.9L872.3 975.9ZM882.7 964.5L889.2 976.2L876.2 976.2ZM886.6 964.9L893.1 976.6L880.1 976.6ZM890.5 965.3L897 977L884 977ZM894.4 965.6L900.9 977.3L887.9 977.3ZM898.3 963.9L904.8 975.6L891.8 975.6ZM902.2 962.2L908.7 973.9L895.7 973.9ZM906.1 960.4L912.6 972.1L899.6 972.1ZM910 958.6L916.5 970.3L903.5 970.3ZM913.9 956.9L920.4 968.6L907.4 968.6ZM917.8 955.1L924.3 966.8L911.3 966.8ZM921.7 953.3L928.2 965L915.2 965ZM925.6 951.7L932.1 963.4L919.1 963.4ZM929.5 951.9L936 963.6L923 963.6ZM933.4 952.2L939.9 963.9L926.9 963.9ZM937.3 952.4L943.8 964.1L930.8 964.1ZM941.2 952.5L947.7 964.2L934.7 964.2ZM945.1 952.2L951.6 963.9L938.6 963.9ZM949 951.8L955.5 963.5L942.5 963.5ZM952.9 952.2L959.4 963.9L946.4 963.9ZM956.8 949.1L963.3 960.8L950.3 960.8ZM960.7 944.3L967.2 956L954.2 956ZM964.6 939.5L971.1 951.2L958.1 951.2ZM968.5 933.4L975 945.1L962 945.1ZM972.4 925.6L978.9 937.3L965.9 937.3ZM976.3 917.7L982.8 929.4L969.8 929.4ZM980.2 909.8L986.7 921.5L973.7 921.5ZM984.1 902.9L990.6 914.6L977.6 914.6ZM988 897.3L994.5 909L981.5 909ZM991.9 891.7L998.4 903.4L985.4 903.4ZM995.8 886L1002.3 897.7L989.3 897.7ZM999.7 882.3L1006.2 894L993.2 894ZM1003.6 879.1L1010.1 890.8L997.1 890.8ZM1007.5 876L1014 887.7L1001 887.7ZM1011.4 874.2L1017.9 885.9L1004.9 885.9ZM1015.3 876.1L1021.8 887.8L1008.8 887.8ZM1019.2 878.1L1025.7 889.8L1012.7 889.8ZM1023.1 880.1L1029.6 891.8L1016.6 891.8ZM1027 883.9L1033.5 895.6L1020.5 895.6ZM1030.9 888.7L1037.4 900.4L1024.4 900.4ZM1034.8 893L1041.3 904.7L1028.3 904.7ZM1038.7 897.2L1045.2 908.9L1032.2 908.9ZM1042.6 903L1049.1 914.7L1036.1 914.7ZM1046.5 908.9L1053 920.6L1040 920.6ZM1050.4 914.7L1056.9 926.4L1043.9 926.4ZM1054.3 921L1060.8 932.7L1047.8 932.7ZM1058.2 928L1064.7 939.7L1051.7 939.7ZM1062.1 935L1068.6 946.7L1055.6 946.7ZM1066 942.1L1072.5 953.8L1059.5 953.8ZM1069.9 947.2L1076.4 958.9L1063.4 958.9ZM1073.8 950.9L1080.3 962.6L1067.3 962.6ZM1077.7 954.5L1084.2 966.2L1071.2 966.2ZM1081.6 956.4L1088.1 968.1L1075.1 968.1ZM1085.5 955.8L1092 967.5L1079 967.5ZM1089.4 954.1L1095.9 965.8L1082.9 965.8ZM1093.3 952.9L1099.8 964.6L1086.8 964.6ZM1097.2 951.8L1103.7 963.5L1090.7 963.5ZM1101.1 951.4L1107.6 963.1L1094.6 963.1ZM1105 952.6L1111.5 964.3L1098.5 964.3ZM1108.9 953.7L1115.4 965.4L1102.4 965.4ZM1112.8 954.9L1119.3 966.6L1106.3 966.6ZM1116.7 956.1L1123.2 967.8L1110.2 967.8ZM1120.6 958.2L1127.1 969.9L1114.1 969.9ZM1124.5 960.6L1131 972.3L1118 972.3ZM1128.4 962.9L1134.9 974.6L1121.9 974.6ZM1132.3 964.9L1138.8 976.6L1125.8 976.6ZM1136.2 966.3L1142.7 978L1129.7 978ZM1140.1 966.5L1146.6 978.2L1133.6 978.2ZM1144 966.7L1150.5 978.4L1137.5 978.4ZM1147.9 966.9L1154.4 978.6L1141.4 978.6ZM1151.8 967.1L1158.3 978.8L1145.3 978.8ZM1155.7 966.8L1162.2 978.5L1149.2 978.5ZM1159.6 966.3L1166.1 978L1153.1 978ZM1163.5 965.3L1170 977L1157 977ZM1167.4 964.3L1173.9 976L1160.9 976ZM1171.3 963.3L1177.8 975L1164.8 975ZM1175.2 962.3L1181.7 974L1168.7 974ZM1179.1 961.3L1185.6 973L1172.6 973ZM1183 960.2L1189.5 972L1176.5 972ZM1186.9 960L1193.4 971.7L1180.4 971.7ZM1190.8 959.6L1197.3 971.3L1184.3 971.3ZM1194.7 959.2L1201.2 970.9L1188.2 970.9ZM1198.6 958.8L1205.1 970.5L1192.1 970.5ZM1202.5 958.4L1209 970.1L1196 970.1ZM1206.4 958L1212.9 969.7L1199.9 969.7ZM1210.3 957.6L1216.8 969.3L1203.8 969.3ZM1214.2 957.2L1220.7 968.9L1207.7 968.9ZM1218.1 957.5L1224.6 969.2L1211.6 969.2ZM1222 958.1L1228.5 969.8L1215.5 969.8ZM1225.9 958.6L1232.4 970.3L1219.4 970.3ZM1229.8 959.2L1236.3 970.9L1223.3 970.9ZM1233.7 959.7L1240.2 971.4L1227.2 971.4ZM1237.6 960.3L1244.1 972L1231.1 972ZM1241.5 960.8L1248 972.5L1235 972.5ZM1245.4 961.4L1251.9 973.1L1238.9 973.1ZM1249.3 961.8L1255.8 973.5L1242.8 973.5ZM1253.2 961.5L1259.7 973.2L1246.7 973.2ZM1257.1 961.3L1263.6 973L1250.6 973ZM1261 961L1267.5 972.7L1254.5 972.7ZM1264.9 960.8L1271.4 972.5L1258.4 972.5ZM1268.8 960.5L1275.3 972.2L1262.3 972.2ZM1272.7 960.3L1279.2 972L1266.2 972ZM1276.6 960L1283.1 971.7L1270.1 971.7ZM1280.5 959.8L1287 971.5L1274 971.5ZM1284.4 960L1290.9 971.7L1277.9 971.7ZM1288.3 960.4L1294.8 972.1L1281.8 972.1ZM1292.2 960.9L1298.7 972.6L1285.7 972.6ZM1296.1 961.3L1302.6 973L1289.6 973ZM1300 961.7L1306.5 973.4L1293.5 973.4ZM1303.9 962.1L1310.4 973.8L1297.4 973.8ZM1307.8 962.2L1314.3 973.9L1301.3 973.9ZM1311.7 962.2L1318.2 973.9L1305.2 973.9ZM1315.6 962.2L1322.1 973.9L1309.1 973.9ZM1319.5 962.2L1326 973.9L1313 973.9ZM1323.4 962.2L1329.9 973.9L1316.9 973.9ZM1327.3 962.3L1333.8 974L1320.8 974ZM1331.2 962.3L1337.7 974L1324.7 974ZM1335.1 962.3L1341.6 974L1328.6 974ZM1339 962.3L1345.5 974L1332.5 974ZM1342.9 962.4L1349.4 974.1L1336.4 974.1ZM1346.8 962.4L1353.3 974.1L1340.3 974.1ZM1350.7 962.4L1357.2 974.1L1344.2 974.1ZM1354.6 962.4L1361.1 974.1L1348.1 974.1Z" stroke="#1A6AE0"/>
<path d="M787.5 1001.1a5.5 5.5 0 1 0 11 0a5.5 5.5 0 1 0 -11 0M791.4 1000.1a5.5 5.5 0 1 0 11 0a5.5 5.5 0 1 0 -11 0M795.3 999.1a5.5 5.5 0 1 0 11 0a5.5 5.5 0 1 0 -11 0M799.2 998a5.5 5.5 0 1 0 11 0a5.5 5.5 0 1 0 -11 0M803.1 997a5.5 5.5 0 1 0 11 0a5.5 5.5 0 1 0 -11 0M807 996a5.5 5.5 0 1 0 11 0a5.5 5.5 0 1 0 -11 0M810.9 995.5a5.5 5.5 0 1 0 11 0a5.5 5.5 0 1 0 -11 0M814.8 996.1a5.5 5.5 0 1 0 11 0a5.5 5.5 0 1 0 -11 0M818.7 996.8a5.5 5.5 0 1 0 11 0a5.5 5.5 0 1 0 -11 0M822.6 997.4a5.5 5.5 0 1 0 11 0a5.5 5.5 0 1 0 -11 0M826.5 998.1a5.5 5.5 0 1 0 11 0a5.5 5.5 0 1 0 -11 0M830.4 998.7a5.5 5.5 0 1 0 11 0a5.5 5.5 0 1 0 -11 0M834.3 999.4a5.5 5.5 0 1 0 11 0a5.5 5.5 0 1 0 -11 0M838.2 999.3a5.5 5.5 0 1 0 11 0a5.5 5.5 0 1 0 -11 0M842.1 998.5a5.5 5.5 0 1 0 11 0a5.5 5.5 0 1 0 -11 0M846 997.7a5.5 5.5 0 1 0 11 0a5.5 5.5 0 1 0 -11 0M849.9 996.8a5.5 5.5 0 1 0 11 0a5.5 5.5 0 1 0 -11 0M853.8 996a5.5 5.5 0 1 0 11 0a5.5 5.5 0 1 0 -11 0M857.7 995.2a5.5 5.5 0 1 0 11 0a5.5 5.5 0 1 0 -11 0M861.6 994.4a5.5 5.5 0 1 0 11 0a5.5 5.5 0 1 0 -11 0M865.5 994.6a5.5 5.5 0 1 0 11 0a5.5 5.5 0 1 0 -11 0M869.4 995.2a5.5 5.5 0 1 0 11 0a5.5 5.5 0 1 0 -11 0M873.3 995.8a5.5 5.5 0 1 0 11 0a5.5 5.5 0 1 0 -11 0M877.2 996.4a5.5 5.5 0 1 0 11 0a5.5 5.5 0 1 0 -11 0M881.1 997a5.5 5.5 0 1 0 11 0a5.5 5.5 0 1 0 -11 0M885 997.3a5.5 5.5 0 1 0 11 0a5.5 5.5 0 1 0 -11 0M888.9 995.5a5.5 5.5 0 1 0 11 0a5.5 5.5 0 1 0 -11 0M892.8 993.7a5.5 5.5 0 1 0 11 0a5.5 5.5 0 1 0 -11 0M896.7 991.8a5.5 5.5 0 1 0 11 0a5.5 5.5 0 1 0 -11 0M900.6 990a5.5 5.5 0 1 0 11 0a5.5 5.5 0 1 0 -11 0M904.5 988.2a5.5 5.5 0 1 0 11 0a5.5 5.5 0 1 0 -11 0M908.4 986.4a5.5 5.5 0 1 0 11 0a5.5 5.5 0 1 0 -11 0M912.3 984.6a5.5 5.5 0 1 0 11 0a5.5 5.5 0 1 0 -11 0M916.2 982.7a5.5 5.5 0 1 0 11 0a5.5 5.5 0 1 0 -11 0M920.1 981a5.5 5.5 0 1 0 11 0a5.5 5.5 0 1 0 -11 0M924 981.5a5.5 5.5 0 1 0 11 0a5.5 5.5 0 1 0 -11 0M927.9 981.9a5.5 5.5 0 1 0 11 0a5.5 5.5 0 1 0 -11 0M931.8 982.4a5.5 5.5 0 1 0 11 0a5.5 5.5 0 1 0 -11 0M935.7 982.3a5.5 5.5 0 1 0 11 0a5.5 5.5 0 1 0 -11 0M939.6 981.1a5.5 5.5 0 1 0 11 0a5.5 5.5 0 1 0 -11 0M943.5 980a5.5 5.5 0 1 0 11 0a5.5 5.5 0 1 0 -11 0M947.4 979.3a5.5 5.5 0 1 0 11 0a5.5 5.5 0 1 0 -11 0M951.3 976.3a5.5 5.5 0 1 0 11 0a5.5 5.5 0 1 0 -11 0M955.2 972a5.5 5.5 0 1 0 11 0a5.5 5.5 0 1 0 -11 0M959.1 967.7a5.5 5.5 0 1 0 11 0a5.5 5.5 0 1 0 -11 0M963 962.5a5.5 5.5 0 1 0 11 0a5.5 5.5 0 1 0 -11 0M966.9 955.7a5.5 5.5 0 1 0 11 0a5.5 5.5 0 1 0 -11 0M970.8 949a5.5 5.5 0 1 0 11 0a5.5 5.5 0 1 0 -11 0M974.7 942.2a5.5 5.5 0 1 0 11 0a5.5 5.5 0 1 0 -11 0M978.6 936.2a5.5 5.5 0 1 0 11 0a5.5 5.5 0 1 0 -11 0M982.5 931a5.5 5.5 0 1 0 11 0a5.5 5.5 0 1 0 -11 0M986.4 925.8a5.5 5.5 0 1 0 11 0a5.5 5.5 0 1 0 -11 0M990.3 920.4a5.5 5.5 0 1 0 11 0a5.5 5.5 0 1 0 -11 0M994.2 917.1a5.5 5.5 0 1 0 11 0a5.5 5.5 0 1 0 -11 0M998.1 914.4a5.5 5.5 0 1 0 11 0a5.5 5.5 0 1 0 -11 0M1002 911.7a5.5 5.5 0 1 0 11 0a5.5 5.5 0 1 0 -11 0M1005.9 910.1a5.5 5.5 0 1 0 11 0a5.5 5.5 0 1 0 -11 0M1009.8 912.1a5.5 5.5 0 1 0 11 0a5.5 5.5 0 1 0 -11 0M1013.7 914.1a5.5 5.5 0 1 0 11 0a5.5 5.5 0 1 0 -11 0M1017.6 916a5.5 5.5 0 1 0 11 0a5.5 5.5 0 1 0 -11 0M1021.5 920a5.5 5.5 0 1 0 11 0a5.5 5.5 0 1 0 -11 0M1025.4 925.3a5.5 5.5 0 1 0 11 0a5.5 5.5 0 1 0 -11 0M1029.3 929.9a5.5 5.5 0 1 0 11 0a5.5 5.5 0 1 0 -11 0M1033.2 934.6a5.5 5.5 0 1 0 11 0a5.5 5.5 0 1 0 -11 0M1037.1 941.1a5.5 5.5 0 1 0 11 0a5.5 5.5 0 1 0 -11 0M1041 947.7a5.5 5.5 0 1 0 11 0a5.5 5.5 0 1 0 -11 0M1044.9 954.4a5.5 5.5 0 1 0 11 0a5.5 5.5 0 1 0 -11 0M1048.8 960.6a5.5 5.5 0 1 0 11 0a5.5 5.5 0 1 0 -11 0M1052.7 966.1a5.5 5.5 0 1 0 11 0a5.5 5.5 0 1 0 -11 0M1056.6 971.6a5.5 5.5 0 1 0 11 0a5.5 5.5 0 1 0 -11 0M1060.5 977.1a5.5 5.5 0 1 0 11 0a5.5 5.5 0 1 0 -11 0M1064.4 981.7a5.5 5.5 0 1 0 11 0a5.5 5.5 0 1 0 -11 0M1068.3 985.4a5.5 5.5 0 1 0 11 0a5.5 5.5 0 1 0 -11 0M1072.2 989a5.5 5.5 0 1 0 11 0a5.5 5.5 0 1 0 -11 0M1076.1 990.8a5.5 5.5 0 1 0 11 0a5.5 5.5 0 1 0 -11 0M1080 989.7a5.5 5.5 0 1 0 11 0a5.5 5.5 0 1 0 -11 0M1083.9 988.6a5.5 5.5 0 1 0 11 0a5.5 5.5 0 1 0 -11 0M1087.8 988a5.5 5.5 0 1 0 11 0a5.5 5.5 0 1 0 -11 0M1091.7 987.6a5.5 5.5 0 1 0 11 0a5.5 5.5 0 1 0 -11 0M1095.6 988.1a5.5 5.5 0 1 0 11 0a5.5 5.5 0 1 0 -11 0M1099.5 988.7a5.5 5.5 0 1 0 11 0a5.5 5.5 0 1 0 -11 0M1103.4 989.4a5.5 5.5 0 1 0 11 0a5.5 5.5 0 1 0 -11 0M1107.3 990a5.5 5.5 0 1 0 11 0a5.5 5.5 0 1 0 -11 0M1111.2 990.7a5.5 5.5 0 1 0 11 0a5.5 5.5 0 1 0 -11 0M1115.1 991.8a5.5 5.5 0 1 0 11 0a5.5 5.5 0 1 0 -11 0M1119 993.1a5.5 5.5 0 1 0 11 0a5.5 5.5 0 1 0 -11 0M1122.9 994.4a5.5 5.5 0 1 0 11 0a5.5 5.5 0 1 0 -11 0M1126.8 995.6a5.5 5.5 0 1 0 11 0a5.5 5.5 0 1 0 -11 0M1130.7 996.9a5.5 5.5 0 1 0 11 0a5.5 5.5 0 1 0 -11 0M1134.6 998.2a5.5 5.5 0 1 0 11 0a5.5 5.5 0 1 0 -11 0M1138.5 999.5a5.5 5.5 0 1 0 11 0a5.5 5.5 0 1 0 -11 0M1142.4 1000.1a5.5 5.5 0 1 0 11 0a5.5 5.5 0 1 0 -11 0M1146.3 1000.6a5.5 5.5 0 1 0 11 0a5.5 5.5 0 1 0 -11 0M1150.2 1001.1a5.5 5.5 0 1 0 11 0a5.5 5.5 0 1 0 -11 0M1154.1 1001.6a5.5 5.5 0 1 0 11 0a5.5 5.5 0 1 0 -11 0M1158 1002.1a5.5 5.5 0 1 0 11 0a5.5 5.5 0 1 0 -11 0M1161.9 1002.6a5.5 5.5 0 1 0 11 0a5.5 5.5 0 1 0 -11 0M1165.8 1003a5.5 5.5 0 1 0 11 0a5.5 5.5 0 1 0 -11 0M1169.7 1002.7a5.5 5.5 0 1 0 11 0a5.5 5.5 0 1 0 -11 0M1173.6 1002.5a5.5 5.5 0 1 0 11 0a5.5 5.5 0 1 0 -11 0M1177.5 1002.2a5.5 5.5 0 1 0 11 0a5.5 5.5 0 1 0 -11 0M1181.4 1001.9a5.5 5.5 0 1 0 11 0a5.5 5.5 0 1 0 -11 0M1185.3 1001.7a5.5 5.5 0 1 0 11 0a5.5 5.5 0 1 0 -11 0M1189.2 1001.4a5.5 5.5 0 1 0 11 0a5.5 5.5 0 1 0 -11 0M1193.1 1001.2a5.5 5.5 0 1 0 11 0a5.5 5.5 0 1 0 -11 0M1197 1000.9a5.5 5.5 0 1 0 11 0a5.5 5.5 0 1 0 -11 0M1200.9 1000.6a5.5 5.5 0 1 0 11 0a5.5 5.5 0 1 0 -11 0M1204.8 1000.4a5.5 5.5 0 1 0 11 0a5.5 5.5 0 1 0 -11 0M1208.7 1000.1a5.5 5.5 0 1 0 11 0a5.5 5.5 0 1 0 -11 0M1212.6 999.8a5.5 5.5 0 1 0 11 0a5.5 5.5 0 1 0 -11 0M1216.5 999.6a5.5 5.5 0 1 0 11 0a5.5 5.5 0 1 0 -11 0M1220.4 999.3a5.5 5.5 0 1 0 11 0a5.5 5.5 0 1 0 -11 0M1224.3 999a5.5 5.5 0 1 0 11 0a5.5 5.5 0 1 0 -11 0M1228.2 998.4a5.5 5.5 0 1 0 11 0a5.5 5.5 0 1 0 -11 0M1232.1 997.7a5.5 5.5 0 1 0 11 0a5.5 5.5 0 1 0 -11 0M1236 997.3a5.5 5.5 0 1 0 11 0a5.5 5.5 0 1 0 -11 0M1239.9 997a5.5 5.5 0 1 0 11 0a5.5 5.5 0 1 0 -11 0M1243.8 996.6a5.5 5.5 0 1 0 11 0a5.5 5.5 0 1 0 -11 0M1247.7 996.2a5.5 5.5 0 1 0 11 0a5.5 5.5 0 1 0 -11 0M1251.6 995.8a5.5 5.5 0 1 0 11 0a5.5 5.5 0 1 0 -11 0M1255.5 995.5a5.5 5.5 0 1 0 11 0a5.5 5.5 0 1 0 -11 0M1259.4 995.5a5.5 5.5 0 1 0 11 0a5.5 5.5 0 1 0 -11 0M1263.3 995.5a5.5 5.5 0 1 0 11 0a5.5 5.5 0 1 0 -11 0M1267.2 995.5a5.5 5.5 0 1 0 11 0a5.5 5.5 0 1 0 -11 0M1271.1 995.5a5.5 5.5 0 1 0 11 0a5.5 5.5 0 1 0 -11 0M1275 995.5a5.5 5.5 0 1 0 11 0a5.5 5.5 0 1 0 -11 0M1278.9 995.5a5.5 5.5 0 1 0 11 0a5.5 5.5 0 1 0 -11 0M1282.8 995.5a5.5 5.5 0 1 0 11 0a5.5 5.5 0 1 0 -11 0M1286.7 995.5a5.5 5.5 0 1 0 11 0a5.5 5.5 0 1 0 -11 0M1290.6 995.5a5.5 5.5 0 1 0 11 0a5.5 5.5 0 1 0 -11 0M1294.5 995.5a5.5 5.5 0 1 0 11 0a5.5 5.5 0 1 0 -11 0M1298.4 995.5a5.5 5.5 0 1 0 11 0a5.5 5.5 0 1 0 -11 0M1302.3 995.6a5.5 5.5 0 1 0 11 0a5.5 5.5 0 1 0 -11 0M1306.2 995.7a5.5 5.5 0 1 0 11 0a5.5 5.5 0 1 0 -11 0M1310.1 995.7a5.5 5.5 0 1 0 11 0a5.5 5.5 0 1 0 -11 0M1314 995.8a5.5 5.5 0 1 0 11 0a5.5 5.5 0 1 0 -11 0M1317.9 995.9a5.5 5.5 0 1 0 11 0a5.5 5.5 0 1 0 -11 0M1321.8 996a5.5 5.5 0 1 0 11 0a5.5 5.5 0 1 0 -11 0M1325.7 996a5.5 5.5 0 1 0 11 0a5.5 5.5 0 1 0 -11 0M1329.6 996.1a5.5 5.5 0 1 0 11 0a5.5 5.5 0 1 0 -11 0M1333.5 996.2a5.5 5.5 0 1 0 11 0a5.5 5.5 0 1 0 -11 0M1337.4 996.3a5.5 5.5 0 1 0 11 0a5.5 5.5 0 1 0 -11 0M1341.3 996.4a5.5 5.5 0 1 0 11 0a5.5 5.5 0 1 0 -11 0M1345.2 996.4a5.5 5.5 0 1 0 11 0a5.5 5.5 0 1 0 -11 0M1349.1 996.5a5.5 5.5 0 1 0 11 0a5.5 5.5 0 1 0 -11 0" stroke="#EE3B40"/>
<path d="M788.2 1067.2h9.5v9.5h-9.5ZM792.1 1066.7h9.5v9.5h-9.5ZM796 1066.2h9.5v9.5h-9.5ZM799.9 1065.6h9.5v9.5h-9.5ZM803.8 1065.1h9.5v9.5h-9.5ZM807.7 1064.5h9.5v9.5h-9.5ZM811.6 1064.3h9.5v9.5h-9.5ZM815.5 1064.8h9.5v9.5h-9.5ZM819.4 1065.3h9.5v9.5h-9.5ZM823.3 1065.8h9.5v9.5h-9.5ZM827.2 1066.3h9.5v9.5h-9.5ZM831.1 1066.8h9.5v9.5h-9.5ZM835 1067.2h9.5v9.5h-9.5ZM838.9 1066.5h9.5v9.5h-9.5ZM842.8 1065.7h9.5v9.5h-9.5ZM846.7 1064.9h9.5v9.5h-9.5ZM850.6 1064.1h9.5v9.5h-9.5ZM854.5 1063.4h9.5v9.5h-9.5ZM858.4 1062.6h9.5v9.5h-9.5ZM862.3 1061.8h9.5v9.5h-9.5ZM866.2 1061.6h9.5v9.5h-9.5ZM870.1 1061.6h9.5v9.5h-9.5ZM874 1061.5h9.5v9.5h-9.5ZM877.9 1061.5h9.5v9.5h-9.5ZM881.8 1061.5h9.5v9.5h-9.5ZM885.7 1061.3h9.5v9.5h-9.5ZM889.6 1059.9h9.5v9.5h-9.5ZM893.5 1058.5h9.5v9.5h-9.5ZM897.4 1057.1h9.5v9.5h-9.5ZM901.3 1055.7h9.5v9.5h-9.5ZM905.2 1054.2h9.5v9.5h-9.5ZM909.1 1052.8h9.5v9.5h-9.5ZM913 1051.4h9.5v9.5h-9.5ZM916.9 1050.3h9.5v9.5h-9.5ZM920.8 1050.7h9.5v9.5h-9.5ZM924.7 1051h9.5v9.5h-9.5ZM928.6 1051.4h9.5v9.5h-9.5ZM932.5 1051.8h9.5v9.5h-9.5ZM936.4 1052.1h9.5v9.5h-9.5ZM940.3 1050.2h9.5v9.5h-9.5ZM944.2 1046.2h9.5v9.5h-9.5ZM948.1 1042.2h9.5v9.5h-9.5ZM952 1035.5h9.5v9.5h-9.5ZM955.9 1027.7h9.5v9.5h-9.5ZM959.8 1019.8h9.5v9.5h-9.5ZM963.7 1012h9.5v9.5h-9.5ZM967.6 1007.2h9.5v9.5h-9.5ZM971.5 1003.3h9.5v9.5h-9.5ZM975.4 999.3h9.5v9.5h-9.5ZM979.3 995.4h9.5v9.5h-9.5ZM983.2 992h9.5v9.5h-9.5ZM987.1 990h9.5v9.5h-9.5ZM991 988.1h9.5v9.5h-9.5ZM994.9 986.1h9.5v9.5h-9.5ZM998.8 984.1h9.5v9.5h-9.5ZM1002.7 984.9h9.5v9.5h-9.5ZM1006.6 986.9h9.5v9.5h-9.5ZM1010.5 988.8h9.5v9.5h-9.5ZM1014.4 991.9h9.5v9.5h-9.5ZM1018.3 997.2h9.5v9.5h-9.5ZM1022.2 1002.5h9.5v9.5h-9.5ZM1026.1 1007.9h9.5v9.5h-9.5ZM1030 1013.2h9.5v9.5h-9.5ZM1033.9 1019.2h9.5v9.5h-9.5ZM1037.8 1025.2h9.5v9.5h-9.5ZM1041.7 1031.3h9.5v9.5h-9.5ZM1045.6 1035.8h9.5v9.5h-9.5ZM1049.5 1039.3h9.5v9.5h-9.5ZM1053.4 1042.9h9.5v9.5h-9.5ZM1057.3 1046.5h9.5v9.5h-9.5ZM1061.2 1050.1h9.5v9.5h-9.5ZM1065.1 1051.2h9.5v9.5h-9.5ZM1069 1052h9.5v9.5h-9.5ZM1072.9 1052.8h9.5v9.5h-9.5ZM1076.8 1053.7h9.5v9.5h-9.5ZM1080.8 1054.9h9.5v9.5h-9.5ZM1084.7 1056.1h9.5v9.5h-9.5ZM1088.6 1057.3h9.5v9.5h-9.5ZM1092.5 1058.5h9.5v9.5h-9.5ZM1096.4 1059.7h9.5v9.5h-9.5ZM1100.3 1061.3h9.5v9.5h-9.5ZM1104.2 1062.8h9.5v9.5h-9.5ZM1108.1 1063.8h9.5v9.5h-9.5ZM1112 1063.7h9.5v9.5h-9.5ZM1115.9 1062.1h9.5v9.5h-9.5ZM1119.8 1060.5h9.5v9.5h-9.5ZM1123.7 1059.9h9.5v9.5h-9.5ZM1127.6 1059.4h9.5v9.5h-9.5ZM1131.5 1058.9h9.5v9.5h-9.5ZM1135.4 1058.5h9.5v9.5h-9.5ZM1139.3 1058.2h9.5v9.5h-9.5ZM1143.2 1058.1h9.5v9.5h-9.5ZM1147.1 1058h9.5v9.5h-9.5ZM1151 1057.9h9.5v9.5h-9.5ZM1154.9 1057.8h9.5v9.5h-9.5ZM1158.8 1057.7h9.5v9.5h-9.5ZM1162.7 1057.6h9.5v9.5h-9.5ZM1166.6 1057.5h9.5v9.5h-9.5ZM1170.5 1057.4h9.5v9.5h-9.5ZM1174.4 1057.3h9.5v9.5h-9.5ZM1178.3 1057.2h9.5v9.5h-9.5ZM1182.2 1057.4h9.5v9.5h-9.5ZM1186.1 1057.6h9.5v9.5h-9.5ZM1190 1057.9h9.5v9.5h-9.5ZM1193.9 1058.2h9.5v9.5h-9.5ZM1197.8 1058.9h9.5v9.5h-9.5ZM1201.7 1060h9.5v9.5h-9.5ZM1205.6 1061h9.5v9.5h-9.5ZM1209.5 1062.1h9.5v9.5h-9.5ZM1213.4 1063.3h9.5v9.5h-9.5ZM1217.3 1064.5h9.5v9.5h-9.5ZM1221.2 1065.6h9.5v9.5h-9.5ZM1225.1 1066h9.5v9.5h-9.5ZM1229 1066.5h9.5v9.5h-9.5ZM1232.9 1066.9h9.5v9.5h-9.5ZM1236.8 1067.3h9.5v9.5h-9.5ZM1240.7 1067.2h9.5v9.5h-9.5ZM1244.6 1067h9.5v9.5h-9.5ZM1248.5 1065.6h9.5v9.5h-9.5ZM1252.4 1063.9h9.5v9.5h-9.5ZM1256.3 1062.2h9.5v9.5h-9.5ZM1260.2 1060.4h9.5v9.5h-9.5ZM1264.1 1058.8h9.5v9.5h-9.5ZM1268 1058.3h9.5v9.5h-9.5ZM1271.9 1058.3h9.5v9.5h-9.5ZM1275.8 1058.3h9.5v9.5h-9.5ZM1279.7 1058.3h9.5v9.5h-9.5ZM1283.6 1058.3h9.5v9.5h-9.5ZM1287.5 1058.3h9.5v9.5h-9.5ZM1291.4 1058.3h9.5v9.5h-9.5ZM1295.3 1058.3h9.5v9.5h-9.5ZM1299.2 1058.3h9.5v9.5h-9.5ZM1303.1 1058.3h9.5v9.5h-9.5ZM1307 1058.3h9.5v9.5h-9.5ZM1310.9 1058.3h9.5v9.5h-9.5ZM1314.8 1058.3h9.5v9.5h-9.5ZM1318.7 1058.3h9.5v9.5h-9.5ZM1322.6 1058.3h9.5v9.5h-9.5ZM1326.5 1058.3h9.5v9.5h-9.5ZM1330.4 1058.3h9.5v9.5h-9.5ZM1334.3 1058.3h9.5v9.5h-9.5ZM1338.2 1058.3h9.5v9.5h-9.5ZM1342.1 1058.3h9.5v9.5h-9.5ZM1346 1058.3h9.5v9.5h-9.5ZM1349.9 1058.3h9.5v9.5h-9.5Z" stroke="#4F4F4F"/>
</g>
<path d="M790 756.7C797.7 755.9 805.2 754.2 813 754.4C821 754.6 828.7 757.7 837.3 757.8C847 757.9 858.7 755.4 868.1 754.4C876 753.6 882.2 753.3 890.1 752.2C899.6 750.9 911.5 747.3 921 746.7C928.9 746.2 937 748.5 943 747.8C947.3 747.3 950.4 746.5 954 744.5C958.4 742.1 962.7 737.6 967.2 733.5C972.2 728.9 977.5 723.2 982.6 718.1C987.8 713 992.7 706.8 998.1 702.7C1003 699 1007.9 696.2 1013.5 693.9C1019.5 691.4 1027.1 689.1 1033.3 688.4C1038.7 687.8 1043.9 688.4 1048.7 689C1052.9 689.5 1056.2 690.2 1060.6 691.6C1066.6 693.4 1075 696.1 1081.1 699.8C1086.9 703.4 1091.4 708.6 1096.5 713.2C1101.7 717.9 1106.8 722.8 1112 727.6C1117.1 732.4 1122 738.3 1127.4 742C1132.3 745.3 1137.2 747.4 1142.8 749.1C1149 751 1155.8 751.5 1163.3 752.2C1172.3 753 1182.1 752.8 1193 753.1C1206.3 753.5 1222.6 753.7 1237.4 754.2C1252.2 754.7 1266.9 755.5 1281.7 755.9C1296.5 756.3 1312.4 756.7 1326.1 756.8C1337.9 756.8 1348 756.5 1359 756.4" fill="none" stroke="#00C8CC" stroke-width="5.8" stroke-linejoin="round" stroke-linecap="butt" clip-path="url(#cc)"/>
<path d="M790 816.1C797.7 814.6 805.3 811.4 813 811.7C821 812 829.4 818.5 837.3 818.3C845 818.1 852.5 812.4 860 811.1C867 809.9 874.3 811.3 880.6 810.1C886.2 809.1 890.9 806.8 896 805C901.1 803.2 906.2 800.4 911.4 799.3C916.5 798.2 921.9 798.9 926.8 798.3C931.4 797.8 936.2 797.6 940.2 796C944 794.5 947.1 792.1 950.3 789.1C954 785.6 957.3 780.7 960.6 775.8C964.2 770.5 967.3 763.9 970.8 758.3C974.1 752.9 977.4 747.2 981.1 742.9C984.3 739.2 987.7 735.5 991.4 733.6C994.6 732 998.3 731.3 1001.7 731.6C1005.2 731.9 1008.8 733.4 1011.9 735.7C1015.7 738.5 1019 743.2 1022.2 748C1026 753.8 1028.9 761.7 1032.3 768.5C1035.7 775.2 1039.5 782.8 1042.8 788.5C1045.3 792.9 1047.9 797 1050 800C1051.5 802.1 1052.3 803.8 1054.1 805.2C1056.1 806.8 1058.6 807.9 1061.4 808.9C1064.6 810 1068.7 810.9 1072.4 811.1C1076.1 811.3 1080.2 811.2 1083.4 810C1086.3 808.9 1088.4 806.6 1090.8 804.5C1093.4 802.2 1095.8 799.5 1098.1 796.4C1100.7 793 1103.3 788.4 1105.4 784.7C1107.3 781.5 1108.1 778.6 1110.3 775.5C1112.9 771.6 1116.9 766.7 1120.6 763.6C1123.8 760.9 1127.3 758.5 1130.8 757.5C1134.1 756.6 1137.8 756.7 1141.1 757.5C1144.6 758.3 1148.1 760.5 1151.4 762.6C1155 764.9 1158.4 767.8 1161.7 770.8C1165.2 773.9 1168.4 777.8 1171.9 781.1C1175.3 784.3 1178.7 787.4 1182.2 790.4C1185.6 793.3 1189 796 1192.5 798.6C1195.9 801.1 1199.3 803.7 1202.8 805.8C1206.1 807.8 1209.5 809.9 1213 810.9C1216.3 811.9 1219.5 811.9 1223.3 811.9C1228.2 811.9 1234.2 810.5 1240 810.5C1246.3 810.5 1252.9 811.6 1259.6 812.3C1266.8 813.1 1274.3 815 1281.7 815.1C1289.1 815.2 1294.8 813.1 1303.9 812.9C1318.2 812.6 1340.6 815.2 1359 816.3" fill="none" stroke="#C99A00" stroke-width="5.8" stroke-linejoin="round" stroke-linecap="butt" clip-path="url(#cc)"/>
<path d="M790 840.3C797.7 839.6 805.1 837.8 813 838.1C821.5 838.4 831.3 843 839.5 842.6C846.8 842.2 852.7 838.1 860 836.8C868 835.4 878.4 836.6 885.7 834.7C891.6 833.1 895.5 829.6 901.1 827.6C907.4 825.4 915 823.2 921.7 822.4C928 821.6 934.9 824.2 940.2 822.4C945 820.8 949.2 816.9 952.5 813.2C955.8 809.5 957.8 804.8 960 800C962.4 794.8 963.4 788.4 966 783C968.7 777.6 972.5 772.2 976 767.6C979.2 763.4 982.3 758.8 986.2 756.2C989.6 753.9 994 752.1 997.6 752.1C1000.8 752.1 1003.9 753.4 1006.8 755.2C1010.4 757.4 1013.9 761.3 1017.1 765.5C1021 770.7 1024 778.2 1027.5 784.5C1031 790.7 1034.8 796.8 1038 803C1041.2 809.1 1043.6 816.5 1046.7 821.4C1049 825.1 1051.4 827.9 1054.1 830.2C1056.4 832.2 1058.6 833.6 1061.4 834.6C1064.6 835.7 1068.7 835.6 1072.4 836.1C1076.1 836.6 1080.1 837.9 1083.4 837.5C1086.2 837.2 1088.6 836.4 1090.8 834.6C1093.7 832.2 1095.6 826.7 1098 823C1100.3 819.5 1102.9 816.3 1105 813C1107 810 1108.2 807.3 1110.3 804C1113.1 799.6 1117 793.6 1120.6 789.3C1123.8 785.4 1127.1 781.5 1130.8 779.1C1134 777 1137.6 775.1 1141.1 774.9C1144.5 774.7 1148.1 776.3 1151.4 778C1155 779.9 1158.4 783 1161.7 786.2C1165.3 789.7 1168.4 794.6 1171.9 798.6C1175.3 802.5 1178.7 806.3 1182.2 809.9C1185.6 813.5 1189 817.1 1192.5 820.2C1195.9 823.2 1199.3 826 1202.8 828.4C1206.1 830.7 1209.5 833.1 1213 834.6C1216.3 836.1 1219.4 836.9 1223.3 837.6C1228.2 838.5 1234.2 838.4 1240 838.7C1246.3 839 1251.8 839.2 1259.6 839.5C1271.4 839.9 1288.3 840.1 1303.9 840.6C1321.3 841.2 1340.6 842.1 1359 842.9" fill="none" stroke="#AD78DD" stroke-width="5.8" stroke-linejoin="round" stroke-linecap="butt" clip-path="url(#cc)"/>
<path d="M790 947.9C798.4 946.4 806.7 943.4 815.2 943.5C823.9 943.6 832.9 949.2 841.7 949C850.5 948.8 859.2 942.9 868.1 942.4C876.9 941.9 885.5 947 894.5 945.7C904.6 944.3 916.9 934 925.4 932.5C931 931.5 935.2 933.6 940 933.2C944.8 932.8 949.8 933 954.1 930.4C959.4 927.2 963.7 919.6 968.2 913.4C973.2 906.5 977.6 898 982.4 890.8C987 883.9 991.4 876.5 996.5 871.1C1000.9 866.5 1005.6 861.6 1010.6 859.8C1015 858.2 1020.2 858.2 1024.7 859.8C1029.8 861.6 1034.4 866.6 1038.9 871.1C1043.9 876.2 1048.4 883 1053 889.4C1057.8 896.1 1062.2 904.6 1067.1 910.6C1071.2 915.6 1076.1 921.4 1080 923.3C1082.4 924.5 1083.9 924.4 1086.6 924.3C1091.1 924.1 1098.4 920 1104.3 919.8C1110.2 919.6 1116 921.3 1122.1 923.2C1129.2 925.4 1136.9 929.6 1144.3 933.1C1151.7 936.6 1158.5 942.1 1166.4 944.2C1174.6 946.3 1184.1 944.9 1193 945.3C1201.9 945.7 1211.1 946.6 1219.6 946.4C1227.3 946.2 1233.8 944.6 1241.8 944.2C1251.3 943.7 1262.6 943.7 1272.9 944.2C1283.3 944.7 1292.1 946.8 1303.9 947.5C1319.6 948.5 1340.6 948.2 1359 948.6" fill="none" stroke="#37A86A" stroke-width="5.8" stroke-linejoin="round" stroke-linecap="butt" clip-path="url(#cc)"/>
<path d="M790 976.6C798.4 974.8 806.7 971.1 815.2 971.1C823.9 971.1 832.9 976.8 841.7 976.6C850.5 976.4 859.2 970.7 868.1 970C876.8 969.3 885.6 973.8 894.5 972.2C904.6 970.4 916.8 959.5 925.4 957.8C931 956.7 935.2 958.7 940 958.6C944.7 958.5 949.9 959.7 954.1 957.2C959.7 953.8 963.7 943.7 968.2 936C973.2 927.4 977.3 916.2 982.4 907.8C986.8 900.4 991.2 892.9 996.5 888C1000.8 884 1005.8 880.1 1010.6 879.5C1015.2 878.9 1020.3 881 1024.7 883.8C1029.9 887.1 1034.4 893.5 1038.9 899.3C1043.9 905.6 1048.4 913 1053 920.5C1057.9 928.5 1062.1 938.8 1067.1 945.9C1071.2 951.7 1076 958.6 1080 960.5C1082.3 961.6 1084.1 961.2 1086.6 960.8C1090.3 960.3 1095.1 956.6 1099.9 956.4C1105.4 956.2 1111.8 958.5 1117.6 960.8C1123.7 963.2 1129.3 968.6 1135.4 970.8C1141.1 972.9 1146.3 973.5 1153.1 974.1C1162 974.9 1173.9 974.6 1184.2 974.1C1194.6 973.6 1204.7 970.7 1215.2 970.8C1226.1 971 1237.4 974.9 1248.5 975.3C1259.6 975.7 1271.7 972.8 1281.7 973C1289.8 973.1 1294.8 974.8 1303.9 975.3C1318.1 976 1340.6 975.3 1359 975.3" fill="none" stroke="#1A6AE0" stroke-width="5.8" stroke-linejoin="round" stroke-linecap="butt" clip-path="url(#cc)"/>
<path d="M790 1001.9C798.4 999.7 806.7 995.7 815.2 995.3C823.9 994.9 832.9 999.9 841.7 999.7C850.5 999.5 859.7 994.4 868.1 994.2C875.7 994 882.1 998.7 890.1 997.5C900.7 996 916 982.5 925.4 981C931.2 980.1 935.2 983.1 940 982.7C944.8 982.3 949.8 981.4 954.1 978.4C959.5 974.7 963.7 966.8 968.2 960.1C973.2 952.8 977.4 943.3 982.4 936C986.9 929.3 991.3 922 996.5 917.7C1000.8 914.1 1005.8 911 1010.6 910.6C1015.2 910.2 1020.4 912 1024.7 914.9C1030 918.4 1034.4 925.5 1038.9 931.8C1043.9 938.9 1048.1 948.3 1053 955.8C1057.6 962.8 1062.3 969.7 1067.1 975.6C1071.3 980.8 1074.8 987.8 1080 989.7C1085 991.6 1091.6 987.4 1097.7 987.5C1104.1 987.6 1110.6 989.1 1117.6 990.8C1125.9 992.8 1135.3 997.6 1144.3 999.6C1153.1 1001.6 1161.5 1002.7 1170.9 1003C1181.3 1003.3 1193 1001.5 1204.1 1000.8C1215.2 1000 1226.3 998.9 1237.4 998.5C1248.5 998.1 1259.5 998.5 1270.6 998.5C1281.7 998.5 1291.4 998.4 1303.9 998.5C1320 998.7 1340.6 999.2 1359 999.6" fill="none" stroke="#EE3B40" stroke-width="5.8" stroke-linejoin="round" stroke-linecap="butt" clip-path="url(#cc)"/>
<path d="M790 1072.4C798.4 1071.3 806.9 1069.1 815.2 1069.1C823.4 1069.1 831.1 1072.6 839.5 1072.4C848.7 1072.1 859.2 1067.8 868.1 1066.9C875.9 1066.2 882.3 1068.3 890.1 1066.9C899.7 1065.2 911.5 1057.1 921 1055.9C928.8 1054.9 937.3 1060.2 943 1058.1C947.8 1056.4 950.4 1052 954 1047C959.3 1039.6 963.3 1024.6 969.4 1016.2C974.6 1009 980.7 1003.1 987 998.6C992.6 994.6 999.2 989.8 1004.7 989.8C1009.4 989.8 1013.6 992.8 1017.9 996.4C1024 1001.6 1030.3 1012.9 1035.5 1020.6C1040.1 1027.3 1042.8 1033.9 1047.8 1039.9C1053 1046.2 1060.2 1053.9 1066.4 1057.1C1071 1059.5 1075 1058.7 1080 1060C1086.3 1061.6 1094.7 1064.2 1101 1066.4C1106.2 1068.2 1110.9 1071.7 1115.2 1072.1C1118.7 1072.4 1121.3 1070.6 1125 1070C1129.9 1069.2 1135.1 1068.5 1142.1 1068C1152.9 1067.2 1170.7 1066.6 1183.5 1066.9C1194.6 1067.1 1204.6 1068.1 1214.6 1069C1223.9 1069.8 1232.7 1071.8 1241.5 1072.1C1249.9 1072.4 1257 1071.3 1266.3 1071.1C1278.3 1070.9 1293.2 1071.1 1307.7 1071.1C1323.9 1071.1 1341.9 1071.1 1359 1071.1" fill="none" stroke="#4F4F4F" stroke-width="5.8" stroke-linejoin="round" stroke-linecap="butt" clip-path="url(#cc)"/>
<rect x="789.4" y="634.3" width="570.6" height="460.20000000000005" fill="none" stroke="#000" stroke-width="2.6"/>
<path d="M789.4 1094.5 V1103.5 M916.2 1094.5 V1099 M1043 1094.5 V1103.5 M1169.8 1094.5 V1099 M1296.6 1094.5 V1103.5" stroke="#000" stroke-width="2.6" fill="none"/>
<text x="789.4" y="1145" font-size="40.8" text-anchor="middle">0</text>
<text x="1043" y="1145" font-size="40.8" text-anchor="middle">2</text>
<text x="1296.6" y="1145" font-size="40.8" text-anchor="middle">4</text>
<text x="1066" y="1195.2" font-size="33" text-anchor="middle"><tspan font-style="italic">R</tspan> (Å)</text>
<text transform="translate(765.7 860.3) rotate(-90)" font-size="34.5" text-anchor="middle">FT[<tspan font-style="italic">χ</tspan>(<tspan font-style="italic">k</tspan>)*<tspan font-style="italic">k</tspan><tspan font-size="22" dy="-13">3</tspan><tspan dy="13">]</tspan></text>
<text x="727" y="655" font-size="43" font-weight="bold">c</text>
<path d="M1102.7 640.7L1109.7 647.7L1102.7 654.7L1095.7 647.7Z" fill="none" stroke="#AD78DD" stroke-width="1.4"/>
<text x="1119.5" y="652.8" font-size="18.7" fill="#AD78DD">No potential, alkaline</text>
<path d="M1096.2 672.7L1107.8 666.2L1107.8 679.2Z" fill="none" stroke="#C99A00" stroke-width="1.4"/>
<text x="1119.5" y="678.3" font-size="18.7" fill="#C99A00">0V vs. RHE, alkaline</text>
<path d="M1108.3 698.2L1096.7 691.7L1096.7 704.7Z" fill="none" stroke="#00C8CC" stroke-width="1.4"/>
<text x="1119.5" y="703.2" font-size="18.7" fill="#00C8CC">–0.76V vs. RHE, alkaline</text>
<path d="M1098.5 856.6a5.8 5.8 0 1 0 11.5 0a5.8 5.8 0 1 0 -11.5 0" fill="none" stroke="#EE3B40" stroke-width="1.4"/>
<text x="1123" y="862.5" font-size="18.7" fill="#EE3B40">No potential, acidic</text>
<path d="M1104.3 875.6L1110.8 887.4L1097.8 887.4Z" fill="none" stroke="#1A6AE0" stroke-width="1.4"/>
<text x="1123" y="887.7" font-size="18.7" fill="#1A6AE0">0V vs. RHE, acidic</text>
<path d="M1104.3 914.6L1110.8 902.9L1097.8 902.9Z" fill="none" stroke="#37A86A" stroke-width="1.4"/>
<text x="1123" y="913.2" font-size="18.7" fill="#37A86A">–0.76V vs. RHE, acidic</text>
<path d="M1097.7 1036.7h10v10h-10Z" fill="none" stroke="#4F4F4F" stroke-width="1.4"/>
<text x="1116" y="1047.3" font-size="20.7" fill="#4F4F4F">As-prepared</text>
</svg></body></html>
